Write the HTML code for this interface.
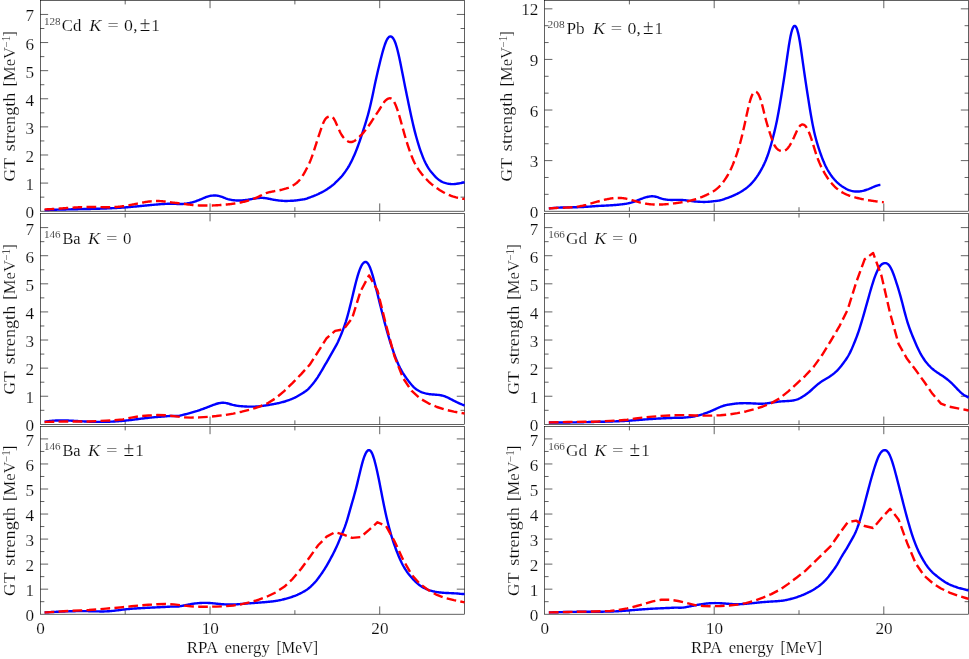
<!DOCTYPE html>
<html><head><meta charset="utf-8"><title>GT strength</title>
<style>
html,body{margin:0;padding:0;background:#fff;}
body{width:969px;height:659px;overflow:hidden;font-family:"Liberation Serif",serif;}
svg{display:block;will-change:transform;}
</style></head><body>
<svg width="969" height="659" viewBox="0 0 969 659">
<rect x="0" y="0" width="969" height="659" fill="#fff"/>
<g stroke="#000" stroke-width="0.62" fill="none">
<rect x="40.35" y="0.40" width="424.23" height="210.80" fill="none"/>
<line x1="125.20" y1="211.20" x2="125.20" y2="207.20"/>
<line x1="125.20" y1="0.40" x2="125.20" y2="4.40"/>
<line x1="210.04" y1="211.20" x2="210.04" y2="203.40"/>
<line x1="210.04" y1="0.40" x2="210.04" y2="8.20"/>
<line x1="294.89" y1="211.20" x2="294.89" y2="207.20"/>
<line x1="294.89" y1="0.40" x2="294.89" y2="4.40"/>
<line x1="379.73" y1="211.20" x2="379.73" y2="203.40"/>
<line x1="379.73" y1="0.40" x2="379.73" y2="8.20"/>
<line x1="40.35" y1="197.15" x2="44.35" y2="197.15"/>
<line x1="464.58" y1="197.15" x2="460.58" y2="197.15"/>
<line x1="40.35" y1="183.09" x2="48.15" y2="183.09"/>
<line x1="464.58" y1="183.09" x2="456.78" y2="183.09"/>
<line x1="40.35" y1="169.04" x2="44.35" y2="169.04"/>
<line x1="464.58" y1="169.04" x2="460.58" y2="169.04"/>
<line x1="40.35" y1="154.99" x2="48.15" y2="154.99"/>
<line x1="464.58" y1="154.99" x2="456.78" y2="154.99"/>
<line x1="40.35" y1="140.93" x2="44.35" y2="140.93"/>
<line x1="464.58" y1="140.93" x2="460.58" y2="140.93"/>
<line x1="40.35" y1="126.88" x2="48.15" y2="126.88"/>
<line x1="464.58" y1="126.88" x2="456.78" y2="126.88"/>
<line x1="40.35" y1="112.83" x2="44.35" y2="112.83"/>
<line x1="464.58" y1="112.83" x2="460.58" y2="112.83"/>
<line x1="40.35" y1="98.77" x2="48.15" y2="98.77"/>
<line x1="464.58" y1="98.77" x2="456.78" y2="98.77"/>
<line x1="40.35" y1="84.72" x2="44.35" y2="84.72"/>
<line x1="464.58" y1="84.72" x2="460.58" y2="84.72"/>
<line x1="40.35" y1="70.67" x2="48.15" y2="70.67"/>
<line x1="464.58" y1="70.67" x2="456.78" y2="70.67"/>
<line x1="40.35" y1="56.61" x2="44.35" y2="56.61"/>
<line x1="464.58" y1="56.61" x2="460.58" y2="56.61"/>
<line x1="40.35" y1="42.56" x2="48.15" y2="42.56"/>
<line x1="464.58" y1="42.56" x2="456.78" y2="42.56"/>
<line x1="40.35" y1="28.51" x2="44.35" y2="28.51"/>
<line x1="464.58" y1="28.51" x2="460.58" y2="28.51"/>
<line x1="40.35" y1="14.45" x2="48.15" y2="14.45"/>
<line x1="464.58" y1="14.45" x2="456.78" y2="14.45"/>
<rect x="40.35" y="213.55" width="424.23" height="210.80" fill="none"/>
<line x1="125.20" y1="424.35" x2="125.20" y2="420.35"/>
<line x1="125.20" y1="213.55" x2="125.20" y2="217.55"/>
<line x1="210.04" y1="424.35" x2="210.04" y2="416.55"/>
<line x1="210.04" y1="213.55" x2="210.04" y2="221.35"/>
<line x1="294.89" y1="424.35" x2="294.89" y2="420.35"/>
<line x1="294.89" y1="213.55" x2="294.89" y2="217.55"/>
<line x1="379.73" y1="424.35" x2="379.73" y2="416.55"/>
<line x1="379.73" y1="213.55" x2="379.73" y2="221.35"/>
<line x1="40.35" y1="410.30" x2="44.35" y2="410.30"/>
<line x1="464.58" y1="410.30" x2="460.58" y2="410.30"/>
<line x1="40.35" y1="396.24" x2="48.15" y2="396.24"/>
<line x1="464.58" y1="396.24" x2="456.78" y2="396.24"/>
<line x1="40.35" y1="382.19" x2="44.35" y2="382.19"/>
<line x1="464.58" y1="382.19" x2="460.58" y2="382.19"/>
<line x1="40.35" y1="368.14" x2="48.15" y2="368.14"/>
<line x1="464.58" y1="368.14" x2="456.78" y2="368.14"/>
<line x1="40.35" y1="354.08" x2="44.35" y2="354.08"/>
<line x1="464.58" y1="354.08" x2="460.58" y2="354.08"/>
<line x1="40.35" y1="340.03" x2="48.15" y2="340.03"/>
<line x1="464.58" y1="340.03" x2="456.78" y2="340.03"/>
<line x1="40.35" y1="325.98" x2="44.35" y2="325.98"/>
<line x1="464.58" y1="325.98" x2="460.58" y2="325.98"/>
<line x1="40.35" y1="311.92" x2="48.15" y2="311.92"/>
<line x1="464.58" y1="311.92" x2="456.78" y2="311.92"/>
<line x1="40.35" y1="297.87" x2="44.35" y2="297.87"/>
<line x1="464.58" y1="297.87" x2="460.58" y2="297.87"/>
<line x1="40.35" y1="283.82" x2="48.15" y2="283.82"/>
<line x1="464.58" y1="283.82" x2="456.78" y2="283.82"/>
<line x1="40.35" y1="269.76" x2="44.35" y2="269.76"/>
<line x1="464.58" y1="269.76" x2="460.58" y2="269.76"/>
<line x1="40.35" y1="255.71" x2="48.15" y2="255.71"/>
<line x1="464.58" y1="255.71" x2="456.78" y2="255.71"/>
<line x1="40.35" y1="241.66" x2="44.35" y2="241.66"/>
<line x1="464.58" y1="241.66" x2="460.58" y2="241.66"/>
<line x1="40.35" y1="227.60" x2="48.15" y2="227.60"/>
<line x1="464.58" y1="227.60" x2="456.78" y2="227.60"/>
<rect x="40.35" y="426.40" width="424.23" height="187.80" fill="none"/>
<line x1="125.20" y1="614.20" x2="125.20" y2="610.20"/>
<line x1="125.20" y1="426.40" x2="125.20" y2="430.40"/>
<line x1="210.04" y1="614.20" x2="210.04" y2="606.40"/>
<line x1="210.04" y1="426.40" x2="210.04" y2="434.20"/>
<line x1="294.89" y1="614.20" x2="294.89" y2="610.20"/>
<line x1="294.89" y1="426.40" x2="294.89" y2="430.40"/>
<line x1="379.73" y1="614.20" x2="379.73" y2="606.40"/>
<line x1="379.73" y1="426.40" x2="379.73" y2="434.20"/>
<line x1="40.35" y1="601.68" x2="44.35" y2="601.68"/>
<line x1="464.58" y1="601.68" x2="460.58" y2="601.68"/>
<line x1="40.35" y1="589.16" x2="48.15" y2="589.16"/>
<line x1="464.58" y1="589.16" x2="456.78" y2="589.16"/>
<line x1="40.35" y1="576.64" x2="44.35" y2="576.64"/>
<line x1="464.58" y1="576.64" x2="460.58" y2="576.64"/>
<line x1="40.35" y1="564.12" x2="48.15" y2="564.12"/>
<line x1="464.58" y1="564.12" x2="456.78" y2="564.12"/>
<line x1="40.35" y1="551.60" x2="44.35" y2="551.60"/>
<line x1="464.58" y1="551.60" x2="460.58" y2="551.60"/>
<line x1="40.35" y1="539.08" x2="48.15" y2="539.08"/>
<line x1="464.58" y1="539.08" x2="456.78" y2="539.08"/>
<line x1="40.35" y1="526.56" x2="44.35" y2="526.56"/>
<line x1="464.58" y1="526.56" x2="460.58" y2="526.56"/>
<line x1="40.35" y1="514.04" x2="48.15" y2="514.04"/>
<line x1="464.58" y1="514.04" x2="456.78" y2="514.04"/>
<line x1="40.35" y1="501.52" x2="44.35" y2="501.52"/>
<line x1="464.58" y1="501.52" x2="460.58" y2="501.52"/>
<line x1="40.35" y1="489.00" x2="48.15" y2="489.00"/>
<line x1="464.58" y1="489.00" x2="456.78" y2="489.00"/>
<line x1="40.35" y1="476.48" x2="44.35" y2="476.48"/>
<line x1="464.58" y1="476.48" x2="460.58" y2="476.48"/>
<line x1="40.35" y1="463.96" x2="48.15" y2="463.96"/>
<line x1="464.58" y1="463.96" x2="456.78" y2="463.96"/>
<line x1="40.35" y1="451.44" x2="44.35" y2="451.44"/>
<line x1="464.58" y1="451.44" x2="460.58" y2="451.44"/>
<line x1="40.35" y1="438.92" x2="48.15" y2="438.92"/>
<line x1="464.58" y1="438.92" x2="456.78" y2="438.92"/>
<rect x="544.60" y="0.40" width="424.00" height="210.80" fill="none"/>
<line x1="629.40" y1="211.20" x2="629.40" y2="207.20"/>
<line x1="629.40" y1="0.40" x2="629.40" y2="4.40"/>
<line x1="714.20" y1="211.20" x2="714.20" y2="203.40"/>
<line x1="714.20" y1="0.40" x2="714.20" y2="8.20"/>
<line x1="799.00" y1="211.20" x2="799.00" y2="207.20"/>
<line x1="799.00" y1="0.40" x2="799.00" y2="4.40"/>
<line x1="883.80" y1="211.20" x2="883.80" y2="203.40"/>
<line x1="883.80" y1="0.40" x2="883.80" y2="8.20"/>
<line x1="544.60" y1="194.34" x2="548.60" y2="194.34"/>
<line x1="968.60" y1="194.34" x2="964.60" y2="194.34"/>
<line x1="544.60" y1="177.47" x2="548.60" y2="177.47"/>
<line x1="968.60" y1="177.47" x2="964.60" y2="177.47"/>
<line x1="544.60" y1="160.61" x2="552.40" y2="160.61"/>
<line x1="968.60" y1="160.61" x2="960.80" y2="160.61"/>
<line x1="544.60" y1="143.74" x2="548.60" y2="143.74"/>
<line x1="968.60" y1="143.74" x2="964.60" y2="143.74"/>
<line x1="544.60" y1="126.88" x2="548.60" y2="126.88"/>
<line x1="968.60" y1="126.88" x2="964.60" y2="126.88"/>
<line x1="544.60" y1="110.02" x2="552.40" y2="110.02"/>
<line x1="968.60" y1="110.02" x2="960.80" y2="110.02"/>
<line x1="544.60" y1="93.15" x2="548.60" y2="93.15"/>
<line x1="968.60" y1="93.15" x2="964.60" y2="93.15"/>
<line x1="544.60" y1="76.29" x2="548.60" y2="76.29"/>
<line x1="968.60" y1="76.29" x2="964.60" y2="76.29"/>
<line x1="544.60" y1="59.42" x2="552.40" y2="59.42"/>
<line x1="968.60" y1="59.42" x2="960.80" y2="59.42"/>
<line x1="544.60" y1="42.56" x2="548.60" y2="42.56"/>
<line x1="968.60" y1="42.56" x2="964.60" y2="42.56"/>
<line x1="544.60" y1="25.70" x2="548.60" y2="25.70"/>
<line x1="968.60" y1="25.70" x2="964.60" y2="25.70"/>
<line x1="544.60" y1="8.83" x2="552.40" y2="8.83"/>
<line x1="968.60" y1="8.83" x2="960.80" y2="8.83"/>
<rect x="544.60" y="213.55" width="424.00" height="210.80" fill="none"/>
<line x1="629.40" y1="424.35" x2="629.40" y2="420.35"/>
<line x1="629.40" y1="213.55" x2="629.40" y2="217.55"/>
<line x1="714.20" y1="424.35" x2="714.20" y2="416.55"/>
<line x1="714.20" y1="213.55" x2="714.20" y2="221.35"/>
<line x1="799.00" y1="424.35" x2="799.00" y2="420.35"/>
<line x1="799.00" y1="213.55" x2="799.00" y2="217.55"/>
<line x1="883.80" y1="424.35" x2="883.80" y2="416.55"/>
<line x1="883.80" y1="213.55" x2="883.80" y2="221.35"/>
<line x1="544.60" y1="410.30" x2="548.60" y2="410.30"/>
<line x1="968.60" y1="410.30" x2="964.60" y2="410.30"/>
<line x1="544.60" y1="396.24" x2="552.40" y2="396.24"/>
<line x1="968.60" y1="396.24" x2="960.80" y2="396.24"/>
<line x1="544.60" y1="382.19" x2="548.60" y2="382.19"/>
<line x1="968.60" y1="382.19" x2="964.60" y2="382.19"/>
<line x1="544.60" y1="368.14" x2="552.40" y2="368.14"/>
<line x1="968.60" y1="368.14" x2="960.80" y2="368.14"/>
<line x1="544.60" y1="354.08" x2="548.60" y2="354.08"/>
<line x1="968.60" y1="354.08" x2="964.60" y2="354.08"/>
<line x1="544.60" y1="340.03" x2="552.40" y2="340.03"/>
<line x1="968.60" y1="340.03" x2="960.80" y2="340.03"/>
<line x1="544.60" y1="325.98" x2="548.60" y2="325.98"/>
<line x1="968.60" y1="325.98" x2="964.60" y2="325.98"/>
<line x1="544.60" y1="311.92" x2="552.40" y2="311.92"/>
<line x1="968.60" y1="311.92" x2="960.80" y2="311.92"/>
<line x1="544.60" y1="297.87" x2="548.60" y2="297.87"/>
<line x1="968.60" y1="297.87" x2="964.60" y2="297.87"/>
<line x1="544.60" y1="283.82" x2="552.40" y2="283.82"/>
<line x1="968.60" y1="283.82" x2="960.80" y2="283.82"/>
<line x1="544.60" y1="269.76" x2="548.60" y2="269.76"/>
<line x1="968.60" y1="269.76" x2="964.60" y2="269.76"/>
<line x1="544.60" y1="255.71" x2="552.40" y2="255.71"/>
<line x1="968.60" y1="255.71" x2="960.80" y2="255.71"/>
<line x1="544.60" y1="241.66" x2="548.60" y2="241.66"/>
<line x1="968.60" y1="241.66" x2="964.60" y2="241.66"/>
<line x1="544.60" y1="227.60" x2="552.40" y2="227.60"/>
<line x1="968.60" y1="227.60" x2="960.80" y2="227.60"/>
<rect x="544.60" y="426.40" width="424.00" height="187.80" fill="none"/>
<line x1="629.40" y1="614.20" x2="629.40" y2="610.20"/>
<line x1="629.40" y1="426.40" x2="629.40" y2="430.40"/>
<line x1="714.20" y1="614.20" x2="714.20" y2="606.40"/>
<line x1="714.20" y1="426.40" x2="714.20" y2="434.20"/>
<line x1="799.00" y1="614.20" x2="799.00" y2="610.20"/>
<line x1="799.00" y1="426.40" x2="799.00" y2="430.40"/>
<line x1="883.80" y1="614.20" x2="883.80" y2="606.40"/>
<line x1="883.80" y1="426.40" x2="883.80" y2="434.20"/>
<line x1="544.60" y1="601.68" x2="548.60" y2="601.68"/>
<line x1="968.60" y1="601.68" x2="964.60" y2="601.68"/>
<line x1="544.60" y1="589.16" x2="552.40" y2="589.16"/>
<line x1="968.60" y1="589.16" x2="960.80" y2="589.16"/>
<line x1="544.60" y1="576.64" x2="548.60" y2="576.64"/>
<line x1="968.60" y1="576.64" x2="964.60" y2="576.64"/>
<line x1="544.60" y1="564.12" x2="552.40" y2="564.12"/>
<line x1="968.60" y1="564.12" x2="960.80" y2="564.12"/>
<line x1="544.60" y1="551.60" x2="548.60" y2="551.60"/>
<line x1="968.60" y1="551.60" x2="964.60" y2="551.60"/>
<line x1="544.60" y1="539.08" x2="552.40" y2="539.08"/>
<line x1="968.60" y1="539.08" x2="960.80" y2="539.08"/>
<line x1="544.60" y1="526.56" x2="548.60" y2="526.56"/>
<line x1="968.60" y1="526.56" x2="964.60" y2="526.56"/>
<line x1="544.60" y1="514.04" x2="552.40" y2="514.04"/>
<line x1="968.60" y1="514.04" x2="960.80" y2="514.04"/>
<line x1="544.60" y1="501.52" x2="548.60" y2="501.52"/>
<line x1="968.60" y1="501.52" x2="964.60" y2="501.52"/>
<line x1="544.60" y1="489.00" x2="552.40" y2="489.00"/>
<line x1="968.60" y1="489.00" x2="960.80" y2="489.00"/>
<line x1="544.60" y1="476.48" x2="548.60" y2="476.48"/>
<line x1="968.60" y1="476.48" x2="964.60" y2="476.48"/>
<line x1="544.60" y1="463.96" x2="552.40" y2="463.96"/>
<line x1="968.60" y1="463.96" x2="960.80" y2="463.96"/>
<line x1="544.60" y1="451.44" x2="548.60" y2="451.44"/>
<line x1="968.60" y1="451.44" x2="964.60" y2="451.44"/>
<line x1="544.60" y1="438.92" x2="552.40" y2="438.92"/>
<line x1="968.60" y1="438.92" x2="960.80" y2="438.92"/>
</g>
<g>
<path d="M44.59,210.14 L45.44,210.11 L46.29,210.07 L47.14,210.03 L47.99,209.99 L48.83,209.96 L49.68,209.92 L50.53,209.89 L51.38,209.86 L52.23,209.83 L53.08,209.80 L53.93,209.77 L54.77,209.74 L55.62,209.71 L56.47,209.69 L57.32,209.66 L58.17,209.63 L59.02,209.61 L59.86,209.59 L60.71,209.56 L61.56,209.54 L62.41,209.52 L63.26,209.50 L64.11,209.48 L64.96,209.46 L65.80,209.44 L66.65,209.42 L67.50,209.40 L68.35,209.38 L69.20,209.36 L70.05,209.34 L70.89,209.33 L71.74,209.31 L72.59,209.29 L73.44,209.27 L74.29,209.26 L75.14,209.24 L75.99,209.22 L76.83,209.21 L77.68,209.19 L78.53,209.17 L79.38,209.16 L80.23,209.14 L81.08,209.12 L81.92,209.11 L82.77,209.09 L83.62,209.07 L84.47,209.06 L85.32,209.04 L86.17,209.02 L87.02,209.00 L87.86,208.98 L88.71,208.97 L89.56,208.95 L90.41,208.93 L91.26,208.91 L92.11,208.89 L92.95,208.87 L93.80,208.84 L94.65,208.82 L95.50,208.80 L96.35,208.78 L97.20,208.75 L98.05,208.73 L98.89,208.70 L99.74,208.68 L100.59,208.65 L101.44,208.62 L102.29,208.59 L103.14,208.56 L103.98,208.53 L104.83,208.50 L105.68,208.47 L106.53,208.44 L107.38,208.40 L108.23,208.37 L109.08,208.33 L109.92,208.29 L110.77,208.25 L111.62,208.21 L112.47,208.17 L113.32,208.13 L114.17,208.09 L115.01,208.04 L115.86,208.00 L116.71,207.95 L117.56,207.90 L118.41,207.85 L119.26,207.80 L120.11,207.74 L120.95,207.69 L121.80,207.63 L122.65,207.57 L123.50,207.51 L124.35,207.45 L125.20,207.39 L126.04,207.32 L126.89,207.26 L127.74,207.19 L128.59,207.12 L129.44,207.05 L130.29,206.98 L131.14,206.91 L131.98,206.83 L132.83,206.76 L133.68,206.68 L134.53,206.60 L135.38,206.53 L136.23,206.45 L137.07,206.37 L137.92,206.29 L138.77,206.21 L139.62,206.13 L140.47,206.05 L141.32,205.96 L142.17,205.88 L143.01,205.80 L143.86,205.72 L144.71,205.63 L145.56,205.55 L146.41,205.47 L147.26,205.39 L148.10,205.31 L148.95,205.23 L149.80,205.14 L150.65,205.06 L151.50,204.98 L152.35,204.90 L153.20,204.82 L154.04,204.74 L154.89,204.66 L155.74,204.59 L156.59,204.52 L157.44,204.45 L158.29,204.38 L159.13,204.31 L159.98,204.24 L160.83,204.17 L161.68,204.11 L162.53,204.05 L163.38,204.00 L164.23,203.95 L165.07,203.91 L165.92,203.87 L166.77,203.83 L167.62,203.79 L168.47,203.76 L169.32,203.72 L170.16,203.69 L171.01,203.68 L171.86,203.67 L172.71,203.69 L173.56,203.72 L174.41,203.76 L175.26,203.82 L176.10,203.88 L176.95,203.94 L177.80,204.00 L178.65,204.04 L179.50,204.07 L180.35,204.07 L181.19,204.06 L182.04,204.02 L182.89,203.96 L183.74,203.89 L184.59,203.79 L185.44,203.69 L186.29,203.57 L187.13,203.44 L187.98,203.29 L188.83,203.13 L189.68,202.95 L190.53,202.75 L191.38,202.54 L192.22,202.31 L193.07,202.07 L193.92,201.82 L194.77,201.56 L195.62,201.28 L196.47,200.99 L197.32,200.69 L198.16,200.38 L199.01,200.05 L199.86,199.70 L200.71,199.35 L201.56,198.99 L202.41,198.62 L203.25,198.25 L204.10,197.88 L204.95,197.53 L205.80,197.19 L206.65,196.88 L207.50,196.59 L208.35,196.34 L209.19,196.12 L210.04,195.94 L210.89,195.79 L211.74,195.67 L212.59,195.58 L213.44,195.53 L214.28,195.50 L215.13,195.49 L215.98,195.52 L216.83,195.59 L217.68,195.70 L218.53,195.85 L219.38,196.05 L220.22,196.29 L221.07,196.58 L221.92,196.89 L222.77,197.22 L223.62,197.56 L224.47,197.89 L225.31,198.22 L226.16,198.53 L227.01,198.81 L227.86,199.07 L228.71,199.30 L229.56,199.51 L230.41,199.69 L231.25,199.85 L232.10,199.99 L232.95,200.11 L233.80,200.22 L234.65,200.31 L235.50,200.38 L236.34,200.44 L237.19,200.49 L238.04,200.51 L238.89,200.52 L239.74,200.51 L240.59,200.48 L241.44,200.44 L242.28,200.39 L243.13,200.32 L243.98,200.24 L244.83,200.15 L245.68,200.05 L246.53,199.94 L247.37,199.82 L248.22,199.69 L249.07,199.55 L249.92,199.40 L250.77,199.25 L251.62,199.09 L252.46,198.93 L253.31,198.77 L254.16,198.62 L255.01,198.48 L255.86,198.35 L256.71,198.23 L257.56,198.12 L258.40,198.03 L259.25,197.96 L260.10,197.91 L260.95,197.89 L261.80,197.89 L262.65,197.91 L263.49,197.97 L264.34,198.04 L265.19,198.14 L266.04,198.26 L266.89,198.39 L267.74,198.54 L268.59,198.70 L269.43,198.87 L270.28,199.04 L271.13,199.22 L271.98,199.39 L272.83,199.56 L273.68,199.72 L274.52,199.87 L275.37,200.02 L276.22,200.16 L277.07,200.28 L277.92,200.40 L278.77,200.50 L279.62,200.59 L280.46,200.67 L281.31,200.74 L282.16,200.80 L283.01,200.86 L283.86,200.90 L284.71,200.93 L285.55,200.95 L286.40,200.95 L287.25,200.94 L288.10,200.92 L288.95,200.89 L289.80,200.86 L290.65,200.82 L291.49,200.78 L292.34,200.73 L293.19,200.68 L294.04,200.62 L294.89,200.54 L295.74,200.45 L296.58,200.34 L297.43,200.23 L298.28,200.12 L299.13,200.01 L299.98,199.90 L300.83,199.79 L301.68,199.67 L302.52,199.54 L303.37,199.40 L304.22,199.23 L305.07,199.03 L305.92,198.80 L306.77,198.54 L307.61,198.26 L308.46,197.96 L309.31,197.64 L310.16,197.32 L311.01,197.00 L311.86,196.67 L312.71,196.35 L313.55,196.03 L314.40,195.70 L315.25,195.36 L316.10,195.01 L316.95,194.63 L317.80,194.25 L318.64,193.85 L319.49,193.44 L320.34,193.02 L321.19,192.60 L322.04,192.18 L322.89,191.73 L323.74,191.27 L324.58,190.78 L325.43,190.27 L326.28,189.73 L327.13,189.17 L327.98,188.60 L328.83,188.01 L329.67,187.42 L330.52,186.81 L331.37,186.18 L332.22,185.51 L333.07,184.81 L333.92,184.07 L334.77,183.29 L335.61,182.48 L336.46,181.66 L337.31,180.83 L338.16,180.00 L339.01,179.15 L339.86,178.28 L340.70,177.38 L341.55,176.43 L342.40,175.43 L343.25,174.38 L344.10,173.27 L344.95,172.12 L345.80,170.92 L346.64,169.67 L347.49,168.37 L348.34,167.00 L349.19,165.56 L350.04,164.03 L350.89,162.42 L351.73,160.71 L352.58,158.92 L353.43,157.06 L354.28,155.14 L355.13,153.16 L355.98,151.10 L356.83,148.98 L357.67,146.76 L358.52,144.45 L359.37,142.04 L360.22,139.56 L361.07,137.00 L361.92,134.41 L362.76,131.79 L363.61,129.15 L364.46,126.50 L365.31,123.81 L366.16,121.06 L367.01,118.21 L367.86,115.24 L368.70,112.11 L369.55,108.78 L370.40,105.26 L371.25,101.54 L372.10,97.66 L372.95,93.66 L373.79,89.62 L374.64,85.59 L375.49,81.62 L376.34,77.75 L377.19,73.99 L378.04,70.33 L378.89,66.75 L379.73,63.24 L380.58,59.80 L381.43,56.45 L382.28,53.23 L383.13,50.17 L383.98,47.33 L384.82,44.75 L385.67,42.47 L386.52,40.52 L387.37,38.94 L388.22,37.74 L389.07,36.92 L389.92,36.49 L390.76,36.44 L391.61,36.76 L392.46,37.46 L393.31,38.54 L394.16,40.03 L395.01,41.94 L395.85,44.27 L396.70,47.03 L397.55,50.19 L398.40,53.71 L399.25,57.50 L400.10,61.52 L400.95,65.68 L401.79,69.95 L402.64,74.26 L403.49,78.59 L404.34,82.89 L405.19,87.14 L406.04,91.35 L406.88,95.50 L407.73,99.61 L408.58,103.69 L409.43,107.73 L410.28,111.74 L411.13,115.68 L411.98,119.54 L412.82,123.29 L413.67,126.89 L414.52,130.34 L415.37,133.64 L416.22,136.78 L417.07,139.78 L417.91,142.64 L418.76,145.39 L419.61,148.02 L420.46,150.53 L421.31,152.92 L422.16,155.20 L423.01,157.35 L423.85,159.38 L424.70,161.28 L425.55,163.05 L426.40,164.69 L427.25,166.21 L428.10,167.61 L428.94,168.91 L429.79,170.12 L430.64,171.26 L431.49,172.33 L432.34,173.35 L433.19,174.33 L434.04,175.27 L434.88,176.17 L435.73,177.04 L436.58,177.86 L437.43,178.63 L438.28,179.35 L439.13,180.00 L439.97,180.58 L440.82,181.11 L441.67,181.57 L442.52,181.98 L443.37,182.34 L444.22,182.66 L445.07,182.94 L445.91,183.19 L446.76,183.41 L447.61,183.59 L448.46,183.75 L449.31,183.87 L450.16,183.97 L451.00,184.04 L451.85,184.08 L452.70,184.09 L453.55,184.08 L454.40,184.05 L455.25,183.99 L456.10,183.90 L456.94,183.79 L457.79,183.66 L458.64,183.51 L459.49,183.34 L460.34,183.16 L461.19,182.97 L462.03,182.76 L462.88,182.53 L463.73,182.29 L464.58,182.06" stroke="#0000ff" stroke-width="2.40" fill="none" stroke-linecap="butt" stroke-linejoin="round"/>
<path d="M44.59,209.42 L45.44,209.39 L46.29,209.36 L47.14,209.32 L47.99,209.29 L48.83,209.25 L49.68,209.21 L50.53,209.16 L51.38,209.12 L52.23,209.07 L53.08,209.02 L53.93,208.97 L54.77,208.91 L55.62,208.86 L56.47,208.80 L57.32,208.74 L58.17,208.68 L59.02,208.62 L59.86,208.56 L60.71,208.50 L61.56,208.44 L62.41,208.38 L63.26,208.32 L64.11,208.25 L64.96,208.19 L65.80,208.13 L66.65,208.07 L67.50,208.00 L68.35,207.94 L69.20,207.88 L70.05,207.82 L70.89,207.76 L71.74,207.70 L72.59,207.65 L73.44,207.59 L74.29,207.54 L75.14,207.48 L75.99,207.43 L76.83,207.39 L77.68,207.34 L78.53,207.29 L79.38,207.25 L80.23,207.21 L81.08,207.17 L81.92,207.14 L82.77,207.11 L83.62,207.08 L84.47,207.05 L85.32,207.03 L86.17,207.01 L87.02,206.99 L87.86,206.98 L88.71,206.97 L89.56,206.97 L90.41,206.96 L91.26,206.97 L92.11,206.97 L92.95,206.98 L93.80,206.99 L94.65,207.01 L95.50,207.02 L96.35,207.04 L97.20,207.05 L98.05,207.07 L98.89,207.09 L99.74,207.11 L100.59,207.13 L101.44,207.15 L102.29,207.16 L103.14,207.18 L103.98,207.19 L104.83,207.20 L105.68,207.21 L106.53,207.22 L107.38,207.22 L108.23,207.22 L109.08,207.22 L109.92,207.21 L110.77,207.19 L111.62,207.17 L112.47,207.15 L113.32,207.12 L114.17,207.08 L115.01,207.04 L115.86,206.99 L116.71,206.94 L117.56,206.87 L118.41,206.80 L119.26,206.72 L120.11,206.63 L120.95,206.53 L121.80,206.42 L122.65,206.31 L123.50,206.19 L124.35,206.06 L125.20,205.93 L126.04,205.79 L126.89,205.64 L127.74,205.49 L128.59,205.34 L129.44,205.18 L130.29,205.02 L131.14,204.85 L131.98,204.69 L132.83,204.52 L133.68,204.35 L134.53,204.17 L135.38,204.00 L136.23,203.83 L137.07,203.65 L137.92,203.48 L138.77,203.31 L139.62,203.14 L140.47,202.97 L141.32,202.81 L142.17,202.65 L143.01,202.49 L143.86,202.34 L144.71,202.19 L145.56,202.05 L146.41,201.91 L147.26,201.79 L148.10,201.67 L148.95,201.55 L149.80,201.45 L150.65,201.36 L151.50,201.27 L152.35,201.20 L153.20,201.14 L154.04,201.09 L154.89,201.05 L155.74,201.03 L156.59,201.02 L157.44,201.02 L158.29,201.04 L159.13,201.07 L159.98,201.11 L160.83,201.17 L161.68,201.23 L162.53,201.30 L163.38,201.38 L164.23,201.47 L165.07,201.56 L165.92,201.66 L166.77,201.77 L167.62,201.88 L168.47,202.00 L169.32,202.13 L170.16,202.25 L171.01,202.37 L171.86,202.48 L172.71,202.58 L173.56,202.67 L174.41,202.77 L175.26,202.86 L176.10,202.95 L176.95,203.05 L177.80,203.16 L178.65,203.27 L179.50,203.39 L180.35,203.50 L181.19,203.62 L182.04,203.73 L182.89,203.84 L183.74,203.96 L184.59,204.06 L185.44,204.17 L186.29,204.28 L187.13,204.39 L187.98,204.49 L188.83,204.59 L189.68,204.68 L190.53,204.78 L191.38,204.86 L192.22,204.95 L193.07,205.03 L193.92,205.10 L194.77,205.17 L195.62,205.24 L196.47,205.29 L197.32,205.35 L198.16,205.39 L199.01,205.43 L199.86,205.47 L200.71,205.49 L201.56,205.52 L202.41,205.53 L203.25,205.55 L204.10,205.55 L204.95,205.56 L205.80,205.56 L206.65,205.55 L207.50,205.55 L208.35,205.53 L209.19,205.52 L210.04,205.50 L210.89,205.48 L211.74,205.46 L212.59,205.44 L213.44,205.41 L214.28,205.38 L215.13,205.34 L215.98,205.30 L216.83,205.26 L217.68,205.21 L218.53,205.17 L219.38,205.11 L220.22,205.06 L221.07,205.00 L221.92,204.94 L222.77,204.87 L223.62,204.80 L224.47,204.72 L225.31,204.64 L226.16,204.56 L227.01,204.48 L227.86,204.39 L228.71,204.29 L229.56,204.19 L230.41,204.09 L231.25,203.99 L232.10,203.88 L232.95,203.76 L233.80,203.64 L234.65,203.51 L235.50,203.38 L236.34,203.24 L237.19,203.10 L238.04,202.95 L238.89,202.79 L239.74,202.63 L240.59,202.47 L241.44,202.29 L242.28,202.11 L243.13,201.92 L243.98,201.72 L244.83,201.52 L245.68,201.30 L246.53,201.07 L247.37,200.84 L248.22,200.59 L249.07,200.33 L249.92,200.07 L250.77,199.79 L251.62,199.51 L252.46,199.21 L253.31,198.90 L254.16,198.58 L255.01,198.25 L255.86,197.90 L256.71,197.54 L257.56,197.16 L258.40,196.77 L259.25,196.36 L260.10,195.94 L260.95,195.51 L261.80,195.08 L262.65,194.66 L263.49,194.25 L264.34,193.86 L265.19,193.51 L266.04,193.18 L266.89,192.89 L267.74,192.63 L268.59,192.40 L269.43,192.19 L270.28,192.00 L271.13,191.82 L271.98,191.64 L272.83,191.48 L273.68,191.32 L274.52,191.16 L275.37,191.00 L276.22,190.85 L277.07,190.69 L277.92,190.54 L278.77,190.38 L279.62,190.21 L280.46,190.03 L281.31,189.84 L282.16,189.64 L283.01,189.43 L283.86,189.20 L284.71,188.95 L285.55,188.69 L286.40,188.42 L287.25,188.12 L288.10,187.81 L288.95,187.47 L289.80,187.10 L290.65,186.70 L291.49,186.26 L292.34,185.79 L293.19,185.29 L294.04,184.76 L294.89,184.20 L295.74,183.61 L296.58,182.96 L297.43,182.24 L298.28,181.45 L299.13,180.55 L299.98,179.54 L300.83,178.42 L301.68,177.21 L302.52,175.90 L303.37,174.51 L304.22,173.07 L305.07,171.57 L305.92,170.02 L306.77,168.42 L307.61,166.76 L308.46,165.03 L309.31,163.20 L310.16,161.24 L311.01,159.14 L311.86,156.88 L312.71,154.47 L313.55,151.94 L314.40,149.33 L315.25,146.68 L316.10,144.04 L316.95,141.41 L317.80,138.81 L318.64,136.22 L319.49,133.64 L320.34,131.06 L321.19,128.54 L322.04,126.12 L322.89,123.89 L323.74,121.93 L324.58,120.29 L325.43,118.99 L326.28,118.03 L327.13,117.34 L327.98,116.86 L328.83,116.54 L329.67,116.36 L330.52,116.33 L331.37,116.51 L332.22,116.95 L333.07,117.72 L333.92,118.84 L334.77,120.30 L335.61,122.02 L336.46,123.93 L337.31,125.92 L338.16,127.90 L339.01,129.82 L339.86,131.61 L340.70,133.26 L341.55,134.75 L342.40,136.08 L343.25,137.25 L344.10,138.28 L344.95,139.17 L345.80,139.93 L346.64,140.57 L347.49,141.10 L348.34,141.51 L349.19,141.81 L350.04,141.99 L350.89,142.05 L351.73,141.98 L352.58,141.78 L353.43,141.45 L354.28,141.01 L355.13,140.46 L355.98,139.83 L356.83,139.13 L357.67,138.39 L358.52,137.61 L359.37,136.81 L360.22,135.98 L361.07,135.13 L361.92,134.24 L362.76,133.32 L363.61,132.35 L364.46,131.34 L365.31,130.29 L366.16,129.20 L367.01,128.08 L367.86,126.93 L368.70,125.75 L369.55,124.54 L370.40,123.29 L371.25,122.01 L372.10,120.70 L372.95,119.38 L373.79,118.06 L374.64,116.75 L375.49,115.45 L376.34,114.18 L377.19,112.91 L378.04,111.63 L378.89,110.33 L379.73,108.99 L380.58,107.61 L381.43,106.22 L382.28,104.85 L383.13,103.54 L383.98,102.35 L384.82,101.29 L385.67,100.40 L386.52,99.66 L387.37,99.08 L388.22,98.64 L389.07,98.37 L389.92,98.29 L390.76,98.43 L391.61,98.84 L392.46,99.55 L393.31,100.59 L394.16,101.95 L395.01,103.62 L395.85,105.58 L396.70,107.78 L397.55,110.22 L398.40,112.85 L399.25,115.64 L400.10,118.56 L400.95,121.57 L401.79,124.63 L402.64,127.72 L403.49,130.79 L404.34,133.82 L405.19,136.78 L406.04,139.65 L406.88,142.42 L407.73,145.09 L408.58,147.66 L409.43,150.15 L410.28,152.54 L411.13,154.83 L411.98,157.01 L412.82,159.07 L413.67,160.98 L414.52,162.75 L415.37,164.39 L416.22,165.90 L417.07,167.32 L417.91,168.65 L418.76,169.91 L419.61,171.11 L420.46,172.27 L421.31,173.38 L422.16,174.45 L423.01,175.48 L423.85,176.48 L424.70,177.44 L425.55,178.37 L426.40,179.27 L427.25,180.14 L428.10,180.99 L428.94,181.81 L429.79,182.60 L430.64,183.36 L431.49,184.09 L432.34,184.78 L433.19,185.45 L434.04,186.09 L434.88,186.72 L435.73,187.33 L436.58,187.92 L437.43,188.51 L438.28,189.08 L439.13,189.64 L439.97,190.19 L440.82,190.72 L441.67,191.24 L442.52,191.74 L443.37,192.22 L444.22,192.69 L445.07,193.14 L445.91,193.57 L446.76,193.98 L447.61,194.38 L448.46,194.75 L449.31,195.11 L450.16,195.45 L451.00,195.77 L451.85,196.08 L452.70,196.38 L453.55,196.65 L454.40,196.91 L455.25,197.16 L456.10,197.39 L456.94,197.59 L457.79,197.79 L458.64,197.97 L459.49,198.14 L460.34,198.31 L461.19,198.48 L462.03,198.64 L462.88,198.79 L463.73,198.93 L464.58,199.06" stroke="#ff0000" stroke-width="2.40" fill="none" stroke-dasharray="9.7,4.3" stroke-linecap="butt" stroke-linejoin="round"/>
<path d="M44.59,421.76 L45.44,421.62 L46.29,421.49 L47.14,421.36 L47.99,421.25 L48.83,421.14 L49.68,421.04 L50.53,420.95 L51.38,420.87 L52.23,420.79 L53.08,420.73 L53.93,420.67 L54.77,420.62 L55.62,420.57 L56.47,420.53 L57.32,420.50 L58.17,420.47 L59.02,420.46 L59.86,420.44 L60.71,420.43 L61.56,420.43 L62.41,420.43 L63.26,420.44 L64.11,420.45 L64.96,420.46 L65.80,420.48 L66.65,420.51 L67.50,420.53 L68.35,420.56 L69.20,420.60 L70.05,420.63 L70.89,420.67 L71.74,420.71 L72.59,420.76 L73.44,420.80 L74.29,420.85 L75.14,420.90 L75.99,420.95 L76.83,421.00 L77.68,421.05 L78.53,421.10 L79.38,421.15 L80.23,421.20 L81.08,421.25 L81.92,421.30 L82.77,421.35 L83.62,421.40 L84.47,421.45 L85.32,421.50 L86.17,421.54 L87.02,421.59 L87.86,421.63 L88.71,421.66 L89.56,421.70 L90.41,421.73 L91.26,421.76 L92.11,421.79 L92.95,421.82 L93.80,421.84 L94.65,421.86 L95.50,421.87 L96.35,421.88 L97.20,421.89 L98.05,421.90 L98.89,421.91 L99.74,421.91 L100.59,421.91 L101.44,421.90 L102.29,421.90 L103.14,421.89 L103.98,421.87 L104.83,421.86 L105.68,421.84 L106.53,421.82 L107.38,421.79 L108.23,421.77 L109.08,421.74 L109.92,421.70 L110.77,421.67 L111.62,421.63 L112.47,421.59 L113.32,421.54 L114.17,421.49 L115.01,421.44 L115.86,421.39 L116.71,421.33 L117.56,421.28 L118.41,421.21 L119.26,421.15 L120.11,421.08 L120.95,421.01 L121.80,420.94 L122.65,420.86 L123.50,420.78 L124.35,420.70 L125.20,420.61 L126.04,420.52 L126.89,420.43 L127.74,420.34 L128.59,420.24 L129.44,420.14 L130.29,420.04 L131.14,419.94 L131.98,419.84 L132.83,419.73 L133.68,419.63 L134.53,419.52 L135.38,419.42 L136.23,419.31 L137.07,419.20 L137.92,419.09 L138.77,418.98 L139.62,418.87 L140.47,418.77 L141.32,418.66 L142.17,418.55 L143.01,418.45 L143.86,418.34 L144.71,418.24 L145.56,418.14 L146.41,418.04 L147.26,417.94 L148.10,417.84 L148.95,417.75 L149.80,417.66 L150.65,417.57 L151.50,417.48 L152.35,417.40 L153.20,417.32 L154.04,417.25 L154.89,417.17 L155.74,417.10 L156.59,417.02 L157.44,416.95 L158.29,416.88 L159.13,416.81 L159.98,416.75 L160.83,416.69 L161.68,416.63 L162.53,416.57 L163.38,416.51 L164.23,416.45 L165.07,416.39 L165.92,416.32 L166.77,416.25 L167.62,416.17 L168.47,416.10 L169.32,416.04 L170.16,415.98 L171.01,415.95 L171.86,415.93 L172.71,415.94 L173.56,415.96 L174.41,415.98 L175.26,416.00 L176.10,416.00 L176.95,415.97 L177.80,415.92 L178.65,415.82 L179.50,415.69 L180.35,415.53 L181.19,415.34 L182.04,415.13 L182.89,414.92 L183.74,414.70 L184.59,414.48 L185.44,414.28 L186.29,414.07 L187.13,413.87 L187.98,413.66 L188.83,413.44 L189.68,413.20 L190.53,412.95 L191.38,412.69 L192.22,412.43 L193.07,412.17 L193.92,411.91 L194.77,411.65 L195.62,411.40 L196.47,411.14 L197.32,410.88 L198.16,410.60 L199.01,410.32 L199.86,410.03 L200.71,409.73 L201.56,409.42 L202.41,409.12 L203.25,408.81 L204.10,408.50 L204.95,408.18 L205.80,407.86 L206.65,407.53 L207.50,407.20 L208.35,406.87 L209.19,406.53 L210.04,406.19 L210.89,405.86 L211.74,405.53 L212.59,405.21 L213.44,404.89 L214.28,404.58 L215.13,404.28 L215.98,404.00 L216.83,403.73 L217.68,403.49 L218.53,403.27 L219.38,403.09 L220.22,402.95 L221.07,402.84 L221.92,402.78 L222.77,402.75 L223.62,402.77 L224.47,402.83 L225.31,402.93 L226.16,403.07 L227.01,403.26 L227.86,403.48 L228.71,403.72 L229.56,403.98 L230.41,404.24 L231.25,404.48 L232.10,404.72 L232.95,404.93 L233.80,405.12 L234.65,405.29 L235.50,405.45 L236.34,405.60 L237.19,405.74 L238.04,405.86 L238.89,405.97 L239.74,406.07 L240.59,406.16 L241.44,406.24 L242.28,406.31 L243.13,406.37 L243.98,406.42 L244.83,406.47 L245.68,406.51 L246.53,406.55 L247.37,406.58 L248.22,406.61 L249.07,406.63 L249.92,406.65 L250.77,406.66 L251.62,406.67 L252.46,406.67 L253.31,406.65 L254.16,406.64 L255.01,406.61 L255.86,406.57 L256.71,406.52 L257.56,406.46 L258.40,406.39 L259.25,406.31 L260.10,406.22 L260.95,406.12 L261.80,406.02 L262.65,405.91 L263.49,405.80 L264.34,405.67 L265.19,405.54 L266.04,405.41 L266.89,405.27 L267.74,405.13 L268.59,404.98 L269.43,404.83 L270.28,404.68 L271.13,404.53 L271.98,404.37 L272.83,404.22 L273.68,404.07 L274.52,403.91 L275.37,403.75 L276.22,403.59 L277.07,403.42 L277.92,403.24 L278.77,403.05 L279.62,402.85 L280.46,402.65 L281.31,402.43 L282.16,402.21 L283.01,401.99 L283.86,401.75 L284.71,401.51 L285.55,401.25 L286.40,400.97 L287.25,400.68 L288.10,400.38 L288.95,400.07 L289.80,399.75 L290.65,399.43 L291.49,399.09 L292.34,398.74 L293.19,398.38 L294.04,398.00 L294.89,397.60 L295.74,397.16 L296.58,396.71 L297.43,396.23 L298.28,395.74 L299.13,395.23 L299.98,394.72 L300.83,394.21 L301.68,393.69 L302.52,393.18 L303.37,392.66 L304.22,392.12 L305.07,391.56 L305.92,390.96 L306.77,390.30 L307.61,389.58 L308.46,388.79 L309.31,387.93 L310.16,387.02 L311.01,386.07 L311.86,385.07 L312.71,384.04 L313.55,382.97 L314.40,381.87 L315.25,380.73 L316.10,379.55 L316.95,378.32 L317.80,377.04 L318.64,375.71 L319.49,374.34 L320.34,372.94 L321.19,371.50 L322.04,370.05 L322.89,368.60 L323.74,367.14 L324.58,365.68 L325.43,364.23 L326.28,362.78 L327.13,361.32 L327.98,359.84 L328.83,358.35 L329.67,356.84 L330.52,355.33 L331.37,353.82 L332.22,352.33 L333.07,350.87 L333.92,349.41 L334.77,347.96 L335.61,346.46 L336.46,344.90 L337.31,343.24 L338.16,341.47 L339.01,339.59 L339.86,337.63 L340.70,335.59 L341.55,333.50 L342.40,331.37 L343.25,329.16 L344.10,326.86 L344.95,324.42 L345.80,321.82 L346.64,319.04 L347.49,316.08 L348.34,312.96 L349.19,309.71 L350.04,306.35 L350.89,302.92 L351.73,299.44 L352.58,295.92 L353.43,292.38 L354.28,288.87 L355.13,285.40 L355.98,282.05 L356.83,278.85 L357.67,275.84 L358.52,273.08 L359.37,270.59 L360.22,268.39 L361.07,266.50 L361.92,264.93 L362.76,263.69 L363.61,262.77 L364.46,262.18 L365.31,261.94 L366.16,262.06 L367.01,262.57 L367.86,263.48 L368.70,264.80 L369.55,266.50 L370.40,268.56 L371.25,270.93 L372.10,273.57 L372.95,276.44 L373.79,279.50 L374.64,282.70 L375.49,286.00 L376.34,289.39 L377.19,292.81 L378.04,296.26 L378.89,299.70 L379.73,303.13 L380.58,306.53 L381.43,309.90 L382.28,313.25 L383.13,316.56 L383.98,319.84 L384.82,323.08 L385.67,326.26 L386.52,329.38 L387.37,332.43 L388.22,335.39 L389.07,338.28 L389.92,341.08 L390.76,343.80 L391.61,346.43 L392.46,348.97 L393.31,351.44 L394.16,353.83 L395.01,356.14 L395.85,358.36 L396.70,360.49 L397.55,362.53 L398.40,364.48 L399.25,366.31 L400.10,368.04 L400.95,369.66 L401.79,371.18 L402.64,372.60 L403.49,373.94 L404.34,375.23 L405.19,376.46 L406.04,377.66 L406.88,378.83 L407.73,379.98 L408.58,381.12 L409.43,382.22 L410.28,383.30 L411.13,384.33 L411.98,385.31 L412.82,386.22 L413.67,387.06 L414.52,387.83 L415.37,388.54 L416.22,389.17 L417.07,389.76 L417.91,390.29 L418.76,390.78 L419.61,391.23 L420.46,391.65 L421.31,392.03 L422.16,392.37 L423.01,392.68 L423.85,392.96 L424.70,393.21 L425.55,393.43 L426.40,393.62 L427.25,393.80 L428.10,393.94 L428.94,394.07 L429.79,394.19 L430.64,394.28 L431.49,394.36 L432.34,394.43 L433.19,394.50 L434.04,394.56 L434.88,394.62 L435.73,394.69 L436.58,394.76 L437.43,394.84 L438.28,394.93 L439.13,395.03 L439.97,395.15 L440.82,395.29 L441.67,395.45 L442.52,395.65 L443.37,395.87 L444.22,396.14 L445.07,396.43 L445.91,396.77 L446.76,397.13 L447.61,397.53 L448.46,397.94 L449.31,398.37 L450.16,398.81 L451.00,399.25 L451.85,399.69 L452.70,400.13 L453.55,400.56 L454.40,400.99 L455.25,401.41 L456.10,401.83 L456.94,402.24 L457.79,402.64 L458.64,403.04 L459.49,403.42 L460.34,403.78 L461.19,404.14 L462.03,404.49 L462.88,404.83 L463.73,405.19 L464.58,405.56" stroke="#0000ff" stroke-width="2.40" fill="none" stroke-linecap="butt" stroke-linejoin="round"/>
<path d="M44.59,421.96 L46.63,421.91 L55.11,421.69 L63.60,421.48 L72.08,421.44 L80.57,421.46 L89.05,421.44 L97.54,421.06 L106.02,420.63 L114.51,420.28 L122.99,419.34 L131.47,417.64 L139.96,416.19 L148.44,415.53 L156.93,415.06 L165.41,415.30 L173.90,416.13 L182.38,417.29 L190.87,417.58 L199.35,417.41 L207.84,416.82 L216.32,416.06 L224.81,415.01 L233.29,413.61 L241.77,411.71 L250.26,409.51 L258.74,406.94 L267.23,403.46 L275.71,398.22 L284.20,391.11 L292.68,382.81 L301.17,374.11 L309.65,364.80 L318.14,351.59 L326.62,338.23 L335.11,330.90 L343.59,329.31 L352.07,318.36 L360.56,291.34 L369.04,275.40 L377.53,290.58 L386.01,324.87 L394.50,356.34 L402.98,377.89 L411.47,390.72 L419.95,398.45 L428.44,403.31 L436.92,407.01 L445.40,409.77 L453.89,411.60 L462.37,413.11 L464.58,413.49" stroke="#ff0000" stroke-width="2.40" fill="none" stroke-dasharray="9.7,4.3" stroke-linecap="butt" stroke-linejoin="round"/>
<path d="M44.59,612.46 L45.44,612.41 L46.29,612.36 L47.14,612.31 L47.99,612.26 L48.83,612.21 L49.68,612.16 L50.53,612.12 L51.38,612.07 L52.23,612.02 L53.08,611.98 L53.93,611.93 L54.77,611.89 L55.62,611.85 L56.47,611.81 L57.32,611.77 L58.17,611.73 L59.02,611.69 L59.86,611.65 L60.71,611.61 L61.56,611.58 L62.41,611.54 L63.26,611.51 L64.11,611.48 L64.96,611.45 L65.80,611.42 L66.65,611.39 L67.50,611.36 L68.35,611.33 L69.20,611.31 L70.05,611.29 L70.89,611.26 L71.74,611.24 L72.59,611.23 L73.44,611.21 L74.29,611.19 L75.14,611.18 L75.99,611.17 L76.83,611.16 L77.68,611.15 L78.53,611.14 L79.38,611.13 L80.23,611.13 L81.08,611.13 L81.92,611.13 L82.77,611.13 L83.62,611.13 L84.47,611.13 L85.32,611.14 L86.17,611.15 L87.02,611.16 L87.86,611.17 L88.71,611.19 L89.56,611.21 L90.41,611.22 L91.26,611.24 L92.11,611.27 L92.95,611.29 L93.80,611.31 L94.65,611.33 L95.50,611.35 L96.35,611.37 L97.20,611.39 L98.05,611.41 L98.89,611.42 L99.74,611.43 L100.59,611.44 L101.44,611.44 L102.29,611.44 L103.14,611.44 L103.98,611.43 L104.83,611.41 L105.68,611.39 L106.53,611.36 L107.38,611.32 L108.23,611.28 L109.08,611.22 L109.92,611.16 L110.77,611.09 L111.62,611.01 L112.47,610.93 L113.32,610.84 L114.17,610.74 L115.01,610.64 L115.86,610.54 L116.71,610.43 L117.56,610.32 L118.41,610.21 L119.26,610.10 L120.11,609.99 L120.95,609.88 L121.80,609.77 L122.65,609.66 L123.50,609.56 L124.35,609.46 L125.20,609.36 L126.04,609.27 L126.89,609.18 L127.74,609.09 L128.59,609.01 L129.44,608.94 L130.29,608.86 L131.14,608.79 L131.98,608.73 L132.83,608.66 L133.68,608.60 L134.53,608.54 L135.38,608.48 L136.23,608.43 L137.07,608.37 L137.92,608.32 L138.77,608.27 L139.62,608.22 L140.47,608.18 L141.32,608.13 L142.17,608.08 L143.01,608.04 L143.86,607.99 L144.71,607.95 L145.56,607.90 L146.41,607.86 L147.26,607.82 L148.10,607.78 L148.95,607.73 L149.80,607.69 L150.65,607.65 L151.50,607.60 L152.35,607.56 L153.20,607.52 L154.04,607.48 L154.89,607.44 L155.74,607.39 L156.59,607.35 L157.44,607.31 L158.29,607.27 L159.13,607.23 L159.98,607.18 L160.83,607.14 L161.68,607.10 L162.53,607.06 L163.38,607.02 L164.23,606.98 L165.07,606.94 L165.92,606.90 L166.77,606.85 L167.62,606.80 L168.47,606.74 L169.32,606.68 L170.16,606.63 L171.01,606.60 L171.86,606.58 L172.71,606.58 L173.56,606.59 L174.41,606.60 L175.26,606.61 L176.10,606.60 L176.95,606.58 L177.80,606.52 L178.65,606.44 L179.50,606.33 L180.35,606.19 L181.19,606.04 L182.04,605.87 L182.89,605.70 L183.74,605.52 L184.59,605.35 L185.44,605.17 L186.29,605.01 L187.13,604.84 L187.98,604.67 L188.83,604.51 L189.68,604.35 L190.53,604.18 L191.38,604.03 L192.22,603.88 L193.07,603.74 L193.92,603.62 L194.77,603.51 L195.62,603.41 L196.47,603.32 L197.32,603.24 L198.16,603.17 L199.01,603.10 L199.86,603.04 L200.71,602.99 L201.56,602.94 L202.41,602.91 L203.25,602.88 L204.10,602.87 L204.95,602.86 L205.80,602.86 L206.65,602.87 L207.50,602.89 L208.35,602.93 L209.19,602.97 L210.04,603.02 L210.89,603.09 L211.74,603.16 L212.59,603.25 L213.44,603.33 L214.28,603.43 L215.13,603.52 L215.98,603.62 L216.83,603.71 L217.68,603.80 L218.53,603.89 L219.38,603.97 L220.22,604.05 L221.07,604.13 L221.92,604.20 L222.77,604.26 L223.62,604.32 L224.47,604.37 L225.31,604.41 L226.16,604.45 L227.01,604.48 L227.86,604.50 L228.71,604.51 L229.56,604.51 L230.41,604.51 L231.25,604.51 L232.10,604.49 L232.95,604.48 L233.80,604.45 L234.65,604.42 L235.50,604.38 L236.34,604.34 L237.19,604.29 L238.04,604.23 L238.89,604.17 L239.74,604.11 L240.59,604.04 L241.44,603.97 L242.28,603.90 L243.13,603.83 L243.98,603.76 L244.83,603.70 L245.68,603.63 L246.53,603.56 L247.37,603.49 L248.22,603.42 L249.07,603.36 L249.92,603.29 L250.77,603.22 L251.62,603.15 L252.46,603.09 L253.31,603.02 L254.16,602.95 L255.01,602.89 L255.86,602.82 L256.71,602.76 L257.56,602.70 L258.40,602.64 L259.25,602.58 L260.10,602.52 L260.95,602.46 L261.80,602.39 L262.65,602.32 L263.49,602.25 L264.34,602.18 L265.19,602.11 L266.04,602.04 L266.89,601.96 L267.74,601.89 L268.59,601.81 L269.43,601.72 L270.28,601.63 L271.13,601.54 L271.98,601.44 L272.83,601.34 L273.68,601.23 L274.52,601.12 L275.37,600.99 L276.22,600.86 L277.07,600.72 L277.92,600.57 L278.77,600.41 L279.62,600.24 L280.46,600.06 L281.31,599.86 L282.16,599.67 L283.01,599.46 L283.86,599.25 L284.71,599.03 L285.55,598.80 L286.40,598.56 L287.25,598.32 L288.10,598.07 L288.95,597.81 L289.80,597.55 L290.65,597.29 L291.49,597.02 L292.34,596.74 L293.19,596.46 L294.04,596.16 L294.89,595.84 L295.74,595.51 L296.58,595.15 L297.43,594.78 L298.28,594.38 L299.13,593.98 L299.98,593.56 L300.83,593.13 L301.68,592.70 L302.52,592.25 L303.37,591.80 L304.22,591.33 L305.07,590.84 L305.92,590.32 L306.77,589.75 L307.61,589.14 L308.46,588.49 L309.31,587.79 L310.16,587.05 L311.01,586.28 L311.86,585.48 L312.71,584.65 L313.55,583.78 L314.40,582.88 L315.25,581.94 L316.10,580.96 L316.95,579.92 L317.80,578.84 L318.64,577.72 L319.49,576.57 L320.34,575.38 L321.19,574.18 L322.04,572.95 L322.89,571.69 L323.74,570.40 L324.58,569.08 L325.43,567.72 L326.28,566.32 L327.13,564.88 L327.98,563.40 L328.83,561.89 L329.67,560.34 L330.52,558.77 L331.37,557.18 L332.22,555.58 L333.07,553.95 L333.92,552.30 L334.77,550.60 L335.61,548.85 L336.46,547.02 L337.31,545.12 L338.16,543.15 L339.01,541.13 L339.86,539.09 L340.70,537.07 L341.55,535.06 L342.40,533.06 L343.25,531.03 L344.10,528.92 L344.95,526.67 L345.80,524.23 L346.64,521.60 L347.49,518.80 L348.34,515.87 L349.19,512.88 L350.04,509.87 L350.89,506.89 L351.73,503.94 L352.58,501.01 L353.43,498.05 L354.28,495.04 L355.13,491.94 L355.98,488.71 L356.83,485.36 L357.67,481.88 L358.52,478.31 L359.37,474.72 L360.22,471.16 L361.07,467.70 L361.92,464.42 L362.76,461.38 L363.61,458.63 L364.46,456.22 L365.31,454.17 L366.16,452.51 L367.01,451.27 L367.86,450.46 L368.70,450.08 L369.55,450.17 L370.40,450.74 L371.25,451.82 L372.10,453.41 L372.95,455.50 L373.79,458.02 L374.64,460.94 L375.49,464.18 L376.34,467.70 L377.19,471.45 L378.04,475.41 L378.89,479.53 L379.73,483.80 L380.58,488.17 L381.43,492.58 L382.28,496.98 L383.13,501.31 L383.98,505.52 L384.82,509.58 L385.67,513.47 L386.52,517.20 L387.37,520.77 L388.22,524.19 L389.07,527.47 L389.92,530.62 L390.76,533.63 L391.61,536.50 L392.46,539.23 L393.31,541.83 L394.16,544.31 L395.01,546.69 L395.85,548.98 L396.70,551.21 L397.55,553.37 L398.40,555.46 L399.25,557.49 L400.10,559.43 L400.95,561.28 L401.79,563.04 L402.64,564.71 L403.49,566.27 L404.34,567.75 L405.19,569.14 L406.04,570.45 L406.88,571.69 L407.73,572.87 L408.58,573.99 L409.43,575.06 L410.28,576.09 L411.13,577.08 L411.98,578.04 L412.82,578.96 L413.67,579.85 L414.52,580.72 L415.37,581.56 L416.22,582.36 L417.07,583.13 L417.91,583.85 L418.76,584.54 L419.61,585.19 L420.46,585.79 L421.31,586.36 L422.16,586.89 L423.01,587.39 L423.85,587.86 L424.70,588.29 L425.55,588.70 L426.40,589.09 L427.25,589.44 L428.10,589.77 L428.94,590.08 L429.79,590.37 L430.64,590.63 L431.49,590.88 L432.34,591.11 L433.19,591.32 L434.04,591.51 L434.88,591.69 L435.73,591.85 L436.58,592.00 L437.43,592.13 L438.28,592.25 L439.13,592.36 L439.97,592.46 L440.82,592.55 L441.67,592.64 L442.52,592.71 L443.37,592.77 L444.22,592.83 L445.07,592.89 L445.91,592.93 L446.76,592.98 L447.61,593.02 L448.46,593.06 L449.31,593.09 L450.16,593.13 L451.00,593.17 L451.85,593.20 L452.70,593.24 L453.55,593.29 L454.40,593.33 L455.25,593.37 L456.10,593.42 L456.94,593.48 L457.79,593.55 L458.64,593.63 L459.49,593.72 L460.34,593.82 L461.19,593.93 L462.03,594.01 L462.88,594.05 L463.73,594.03 L464.58,593.91" stroke="#0000ff" stroke-width="2.40" fill="none" stroke-linecap="butt" stroke-linejoin="round"/>
<path d="M44.59,612.47 L46.63,612.34 L55.11,611.81 L63.60,611.28 L72.08,610.83 L80.57,610.42 L89.05,609.99 L97.54,609.33 L106.02,608.65 L114.51,607.96 L122.99,607.12 L131.47,606.26 L139.96,605.45 L148.44,604.82 L156.93,604.26 L165.41,604.02 L173.90,604.38 L182.38,605.44 L190.87,606.31 L199.35,606.69 L207.84,606.76 L216.32,606.59 L224.81,606.18 L233.29,605.48 L241.77,604.17 L250.26,602.27 L258.74,599.73 L267.23,596.49 L275.71,592.43 L284.20,586.82 L292.68,578.77 L301.17,568.68 L309.65,557.17 L318.14,545.28 L326.62,536.67 L335.11,532.10 L343.59,534.56 L352.07,537.87 L360.56,537.10 L369.04,529.92 L377.53,522.23 L386.01,525.94 L394.50,541.23 L402.98,559.41 L411.47,574.49 L419.95,584.01 L428.44,590.12 L436.92,594.96 L445.40,598.11 L453.89,600.12 L462.37,601.91 L464.58,602.34" stroke="#ff0000" stroke-width="2.40" fill="none" stroke-dasharray="9.7,4.3" stroke-linecap="butt" stroke-linejoin="round"/>
<path d="M548.84,208.45 L549.69,208.35 L550.54,208.25 L551.38,208.17 L552.23,208.09 L553.08,208.02 L553.93,207.95 L554.78,207.89 L555.62,207.83 L556.47,207.77 L557.32,207.72 L558.17,207.67 L559.02,207.63 L559.86,207.60 L560.71,207.56 L561.56,207.53 L562.41,207.50 L563.26,207.48 L564.10,207.45 L564.95,207.43 L565.80,207.41 L566.65,207.39 L567.50,207.38 L568.34,207.36 L569.19,207.35 L570.04,207.33 L570.89,207.32 L571.74,207.31 L572.58,207.29 L573.43,207.28 L574.28,207.26 L575.13,207.24 L575.98,207.23 L576.82,207.21 L577.67,207.18 L578.52,207.16 L579.37,207.14 L580.22,207.11 L581.06,207.08 L581.91,207.05 L582.76,207.01 L583.61,206.97 L584.46,206.92 L585.30,206.87 L586.15,206.82 L587.00,206.77 L587.85,206.71 L588.70,206.65 L589.54,206.59 L590.39,206.53 L591.24,206.46 L592.09,206.39 L592.94,206.32 L593.78,206.25 L594.63,206.18 L595.48,206.12 L596.33,206.06 L597.18,206.01 L598.02,205.96 L598.87,205.92 L599.72,205.88 L600.57,205.84 L601.42,205.81 L602.26,205.77 L603.11,205.73 L603.96,205.69 L604.81,205.65 L605.66,205.60 L606.50,205.56 L607.35,205.51 L608.20,205.46 L609.05,205.41 L609.90,205.36 L610.74,205.31 L611.59,205.25 L612.44,205.19 L613.29,205.13 L614.14,205.06 L614.98,205.00 L615.83,204.93 L616.68,204.85 L617.53,204.77 L618.38,204.69 L619.22,204.61 L620.07,204.52 L620.92,204.43 L621.77,204.33 L622.62,204.22 L623.46,204.11 L624.31,203.99 L625.16,203.86 L626.01,203.72 L626.86,203.56 L627.70,203.40 L628.55,203.21 L629.40,203.02 L630.25,202.80 L631.10,202.57 L631.94,202.32 L632.79,202.06 L633.64,201.78 L634.49,201.49 L635.34,201.19 L636.18,200.88 L637.03,200.56 L637.88,200.23 L638.73,199.89 L639.58,199.56 L640.42,199.22 L641.27,198.89 L642.12,198.57 L642.97,198.25 L643.82,197.95 L644.66,197.67 L645.51,197.41 L646.36,197.17 L647.21,196.96 L648.06,196.77 L648.90,196.61 L649.75,196.48 L650.60,196.38 L651.45,196.32 L652.30,196.30 L653.14,196.32 L653.99,196.40 L654.84,196.53 L655.69,196.71 L656.54,196.94 L657.38,197.20 L658.23,197.48 L659.08,197.78 L659.93,198.07 L660.78,198.34 L661.62,198.60 L662.47,198.84 L663.32,199.06 L664.17,199.25 L665.02,199.41 L665.86,199.55 L666.71,199.67 L667.56,199.76 L668.41,199.83 L669.26,199.88 L670.10,199.92 L670.95,199.94 L671.80,199.94 L672.65,199.93 L673.50,199.92 L674.34,199.90 L675.19,199.88 L676.04,199.86 L676.89,199.85 L677.74,199.84 L678.58,199.84 L679.43,199.85 L680.28,199.87 L681.13,199.91 L681.98,199.96 L682.82,200.02 L683.67,200.10 L684.52,200.18 L685.37,200.28 L686.22,200.38 L687.06,200.49 L687.91,200.60 L688.76,200.71 L689.61,200.82 L690.46,200.93 L691.30,201.04 L692.15,201.15 L693.00,201.25 L693.85,201.35 L694.70,201.44 L695.54,201.53 L696.39,201.60 L697.24,201.67 L698.09,201.73 L698.94,201.78 L699.78,201.82 L700.63,201.86 L701.48,201.89 L702.33,201.92 L703.18,201.93 L704.02,201.94 L704.87,201.94 L705.72,201.92 L706.57,201.89 L707.42,201.84 L708.26,201.78 L709.11,201.71 L709.96,201.62 L710.81,201.54 L711.66,201.44 L712.50,201.35 L713.35,201.26 L714.20,201.17 L715.05,201.08 L715.90,200.99 L716.74,200.89 L717.59,200.77 L718.44,200.63 L719.29,200.47 L720.14,200.28 L720.98,200.06 L721.83,199.83 L722.68,199.57 L723.53,199.30 L724.38,199.02 L725.22,198.73 L726.07,198.43 L726.92,198.13 L727.77,197.82 L728.62,197.51 L729.46,197.19 L730.31,196.86 L731.16,196.52 L732.01,196.16 L732.86,195.80 L733.70,195.43 L734.55,195.05 L735.40,194.66 L736.25,194.26 L737.10,193.85 L737.94,193.42 L738.79,192.97 L739.64,192.50 L740.49,192.01 L741.34,191.49 L742.18,190.95 L743.03,190.40 L743.88,189.84 L744.73,189.25 L745.58,188.65 L746.42,188.03 L747.27,187.37 L748.12,186.66 L748.97,185.92 L749.82,185.12 L750.66,184.28 L751.51,183.40 L752.36,182.47 L753.21,181.50 L754.06,180.49 L754.90,179.42 L755.75,178.30 L756.60,177.13 L757.45,175.89 L758.30,174.60 L759.14,173.25 L759.99,171.85 L760.84,170.40 L761.69,168.88 L762.54,167.30 L763.38,165.63 L764.23,163.86 L765.08,161.98 L765.93,159.97 L766.78,157.81 L767.62,155.50 L768.47,153.03 L769.32,150.41 L770.17,147.64 L771.02,144.73 L771.86,141.70 L772.71,138.55 L773.56,135.27 L774.41,131.86 L775.26,128.27 L776.10,124.47 L776.95,120.41 L777.80,116.08 L778.65,111.48 L779.50,106.65 L780.34,101.62 L781.19,96.47 L782.04,91.23 L782.89,85.91 L783.74,80.50 L784.58,74.96 L785.43,69.27 L786.28,63.43 L787.13,57.52 L787.98,51.67 L788.82,46.05 L789.67,40.87 L790.52,36.31 L791.37,32.50 L792.22,29.53 L793.06,27.43 L793.91,26.21 L794.76,25.84 L795.61,26.34 L796.46,27.70 L797.30,29.95 L798.15,33.08 L799.00,37.07 L799.85,41.82 L800.70,47.21 L801.54,53.03 L802.39,59.08 L803.24,65.17 L804.09,71.17 L804.94,77.01 L805.78,82.68 L806.63,88.23 L807.48,93.70 L808.33,99.11 L809.18,104.46 L810.02,109.69 L810.87,114.75 L811.72,119.57 L812.57,124.10 L813.42,128.31 L814.26,132.18 L815.11,135.75 L815.96,139.04 L816.81,142.08 L817.66,144.93 L818.50,147.61 L819.35,150.17 L820.20,152.63 L821.05,155.01 L821.90,157.30 L822.74,159.50 L823.59,161.60 L824.44,163.57 L825.29,165.41 L826.14,167.14 L826.98,168.75 L827.83,170.26 L828.68,171.68 L829.53,173.03 L830.38,174.30 L831.22,175.52 L832.07,176.67 L832.92,177.76 L833.77,178.78 L834.62,179.75 L835.46,180.66 L836.31,181.52 L837.16,182.34 L838.01,183.12 L838.86,183.86 L839.70,184.57 L840.55,185.24 L841.40,185.88 L842.25,186.49 L843.10,187.05 L843.94,187.59 L844.79,188.09 L845.64,188.57 L846.49,189.01 L847.34,189.42 L848.18,189.79 L849.03,190.13 L849.88,190.44 L850.73,190.70 L851.58,190.93 L852.42,191.12 L853.27,191.27 L854.12,191.39 L854.97,191.48 L855.82,191.54 L856.66,191.56 L857.51,191.56 L858.36,191.52 L859.21,191.45 L860.06,191.36 L860.90,191.23 L861.75,191.08 L862.60,190.91 L863.45,190.71 L864.30,190.49 L865.14,190.25 L865.99,189.99 L866.84,189.71 L867.69,189.42 L868.54,189.10 L869.38,188.76 L870.23,188.41 L871.08,188.04 L871.93,187.66 L872.78,187.27 L873.62,186.89 L874.47,186.52 L875.32,186.18 L876.17,185.86 L877.02,185.58 L877.86,185.33 L878.71,185.14 L879.56,184.99 L880.41,184.92" stroke="#0000ff" stroke-width="2.40" fill="none" stroke-linecap="butt" stroke-linejoin="round"/>
<path d="M548.84,208.49 L549.69,208.40 L550.54,208.32 L551.38,208.25 L552.23,208.19 L553.08,208.14 L553.93,208.09 L554.78,208.04 L555.62,208.00 L556.47,207.96 L557.32,207.92 L558.17,207.89 L559.02,207.86 L559.86,207.83 L560.71,207.81 L561.56,207.78 L562.41,207.76 L563.26,207.73 L564.10,207.70 L564.95,207.67 L565.80,207.64 L566.65,207.60 L567.50,207.56 L568.34,207.52 L569.19,207.47 L570.04,207.42 L570.89,207.36 L571.74,207.30 L572.58,207.23 L573.43,207.15 L574.28,207.07 L575.13,206.97 L575.98,206.87 L576.82,206.76 L577.67,206.63 L578.52,206.50 L579.37,206.35 L580.22,206.19 L581.06,206.02 L581.91,205.84 L582.76,205.66 L583.61,205.46 L584.46,205.26 L585.30,205.04 L586.15,204.83 L587.00,204.60 L587.85,204.37 L588.70,204.14 L589.54,203.90 L590.39,203.66 L591.24,203.42 L592.09,203.17 L592.94,202.93 L593.78,202.69 L594.63,202.44 L595.48,202.20 L596.33,201.96 L597.18,201.72 L598.02,201.48 L598.87,201.24 L599.72,201.01 L600.57,200.77 L601.42,200.55 L602.26,200.32 L603.11,200.10 L603.96,199.89 L604.81,199.69 L605.66,199.50 L606.50,199.31 L607.35,199.14 L608.20,198.97 L609.05,198.81 L609.90,198.67 L610.74,198.53 L611.59,198.41 L612.44,198.30 L613.29,198.20 L614.14,198.12 L614.98,198.05 L615.83,198.00 L616.68,197.96 L617.53,197.94 L618.38,197.93 L619.22,197.94 L620.07,197.96 L620.92,198.01 L621.77,198.07 L622.62,198.15 L623.46,198.25 L624.31,198.37 L625.16,198.51 L626.01,198.67 L626.86,198.85 L627.70,199.04 L628.55,199.25 L629.40,199.48 L630.25,199.72 L631.10,199.96 L631.94,200.21 L632.79,200.46 L633.64,200.72 L634.49,200.97 L635.34,201.22 L636.18,201.47 L637.03,201.72 L637.88,201.96 L638.73,202.19 L639.58,202.41 L640.42,202.62 L641.27,202.82 L642.12,203.01 L642.97,203.19 L643.82,203.35 L644.66,203.50 L645.51,203.64 L646.36,203.77 L647.21,203.89 L648.06,204.00 L648.90,204.10 L649.75,204.19 L650.60,204.27 L651.45,204.33 L652.30,204.38 L653.14,204.43 L653.99,204.46 L654.84,204.49 L655.69,204.51 L656.54,204.53 L657.38,204.54 L658.23,204.55 L659.08,204.55 L659.93,204.54 L660.78,204.53 L661.62,204.50 L662.47,204.47 L663.32,204.42 L664.17,204.37 L665.02,204.31 L665.86,204.24 L666.71,204.17 L667.56,204.09 L668.41,204.01 L669.26,203.93 L670.10,203.84 L670.95,203.75 L671.80,203.65 L672.65,203.54 L673.50,203.43 L674.34,203.32 L675.19,203.20 L676.04,203.08 L676.89,202.96 L677.74,202.84 L678.58,202.72 L679.43,202.60 L680.28,202.47 L681.13,202.35 L681.98,202.22 L682.82,202.09 L683.67,201.96 L684.52,201.82 L685.37,201.68 L686.22,201.53 L687.06,201.37 L687.91,201.21 L688.76,201.03 L689.61,200.85 L690.46,200.65 L691.30,200.44 L692.15,200.22 L693.00,199.99 L693.85,199.75 L694.70,199.51 L695.54,199.25 L696.39,198.98 L697.24,198.70 L698.09,198.41 L698.94,198.11 L699.78,197.79 L700.63,197.47 L701.48,197.13 L702.33,196.78 L703.18,196.42 L704.02,196.05 L704.87,195.68 L705.72,195.30 L706.57,194.91 L707.42,194.52 L708.26,194.12 L709.11,193.70 L709.96,193.27 L710.81,192.82 L711.66,192.35 L712.50,191.85 L713.35,191.33 L714.20,190.76 L715.05,190.16 L715.90,189.52 L716.74,188.84 L717.59,188.11 L718.44,187.34 L719.29,186.52 L720.14,185.64 L720.98,184.71 L721.83,183.72 L722.68,182.67 L723.53,181.56 L724.38,180.38 L725.22,179.15 L726.07,177.85 L726.92,176.49 L727.77,175.07 L728.62,173.58 L729.46,171.99 L730.31,170.31 L731.16,168.53 L732.01,166.63 L732.86,164.62 L733.70,162.50 L734.55,160.29 L735.40,157.98 L736.25,155.58 L737.10,153.09 L737.94,150.47 L738.79,147.73 L739.64,144.83 L740.49,141.76 L741.34,138.51 L742.18,135.09 L743.03,131.49 L743.88,127.75 L744.73,123.89 L745.58,119.98 L746.42,116.05 L747.27,112.19 L748.12,108.47 L748.97,104.96 L749.82,101.75 L750.66,98.91 L751.51,96.51 L752.36,94.60 L753.21,93.20 L754.06,92.28 L754.90,91.82 L755.75,91.78 L756.60,92.13 L757.45,92.88 L758.30,94.03 L759.14,95.62 L759.99,97.67 L760.84,100.18 L761.69,103.11 L762.54,106.36 L763.38,109.80 L764.23,113.28 L765.08,116.68 L765.93,119.93 L766.78,122.99 L767.62,125.88 L768.47,128.66 L769.32,131.35 L770.17,133.98 L771.02,136.54 L771.86,138.98 L772.71,141.25 L773.56,143.29 L774.41,145.06 L775.26,146.54 L776.10,147.74 L776.95,148.70 L777.80,149.45 L778.65,150.02 L779.50,150.45 L780.34,150.76 L781.19,150.97 L782.04,151.06 L782.89,151.05 L783.74,150.92 L784.58,150.66 L785.43,150.23 L786.28,149.65 L787.13,148.88 L787.98,147.95 L788.82,146.85 L789.67,145.60 L790.52,144.21 L791.37,142.69 L792.22,141.06 L793.06,139.32 L793.91,137.49 L794.76,135.59 L795.61,133.68 L796.46,131.80 L797.30,130.02 L798.15,128.42 L799.00,127.06 L799.85,125.97 L800.70,125.19 L801.54,124.70 L802.39,124.51 L803.24,124.59 L804.09,124.94 L804.94,125.55 L805.78,126.44 L806.63,127.59 L807.48,129.03 L808.33,130.76 L809.18,132.74 L810.02,134.97 L810.87,137.40 L811.72,139.99 L812.57,142.69 L813.42,145.44 L814.26,148.20 L815.11,150.90 L815.96,153.52 L816.81,156.00 L817.66,158.35 L818.50,160.56 L819.35,162.63 L820.20,164.57 L821.05,166.39 L821.90,168.12 L822.74,169.76 L823.59,171.33 L824.44,172.84 L825.29,174.29 L826.14,175.68 L826.98,177.02 L827.83,178.30 L828.68,179.53 L829.53,180.69 L830.38,181.79 L831.22,182.84 L832.07,183.83 L832.92,184.77 L833.77,185.67 L834.62,186.52 L835.46,187.32 L836.31,188.08 L837.16,188.80 L838.01,189.48 L838.86,190.12 L839.70,190.73 L840.55,191.30 L841.40,191.84 L842.25,192.35 L843.10,192.83 L843.94,193.28 L844.79,193.71 L845.64,194.12 L846.49,194.50 L847.34,194.86 L848.18,195.19 L849.03,195.51 L849.88,195.82 L850.73,196.11 L851.58,196.38 L852.42,196.65 L853.27,196.90 L854.12,197.14 L854.97,197.38 L855.82,197.60 L856.66,197.82 L857.51,198.03 L858.36,198.24 L859.21,198.44 L860.06,198.63 L860.90,198.82 L861.75,199.01 L862.60,199.18 L863.45,199.35 L864.30,199.52 L865.14,199.68 L865.99,199.84 L866.84,199.99 L867.69,200.14 L868.54,200.28 L869.38,200.42 L870.23,200.55 L871.08,200.68 L871.93,200.81 L872.78,200.93 L873.62,201.05 L874.47,201.17 L875.32,201.28 L876.17,201.38 L877.02,201.49 L877.86,201.59 L878.71,201.70 L879.56,201.80 L880.41,201.90 L881.26,201.99 L882.10,202.05 L882.95,202.09 L883.80,202.09" stroke="#ff0000" stroke-width="2.40" fill="none" stroke-dasharray="9.7,4.3" stroke-linecap="butt" stroke-linejoin="round"/>
<path d="M548.84,422.44 L549.69,422.45 L550.54,422.46 L551.38,422.47 L552.23,422.48 L553.08,422.49 L553.93,422.50 L554.78,422.50 L555.62,422.51 L556.47,422.51 L557.32,422.51 L558.17,422.51 L559.02,422.51 L559.86,422.51 L560.71,422.51 L561.56,422.50 L562.41,422.50 L563.26,422.50 L564.10,422.49 L564.95,422.48 L565.80,422.48 L566.65,422.47 L567.50,422.46 L568.34,422.45 L569.19,422.44 L570.04,422.43 L570.89,422.41 L571.74,422.40 L572.58,422.39 L573.43,422.37 L574.28,422.36 L575.13,422.35 L575.98,422.33 L576.82,422.31 L577.67,422.30 L578.52,422.28 L579.37,422.27 L580.22,422.25 L581.06,422.23 L581.91,422.21 L582.76,422.19 L583.61,422.18 L584.46,422.16 L585.30,422.14 L586.15,422.12 L587.00,422.10 L587.85,422.08 L588.70,422.06 L589.54,422.04 L590.39,422.02 L591.24,422.00 L592.09,421.98 L592.94,421.96 L593.78,421.94 L594.63,421.92 L595.48,421.90 L596.33,421.88 L597.18,421.86 L598.02,421.84 L598.87,421.82 L599.72,421.80 L600.57,421.78 L601.42,421.76 L602.26,421.74 L603.11,421.72 L603.96,421.70 L604.81,421.68 L605.66,421.65 L606.50,421.63 L607.35,421.61 L608.20,421.58 L609.05,421.56 L609.90,421.53 L610.74,421.50 L611.59,421.48 L612.44,421.45 L613.29,421.42 L614.14,421.39 L614.98,421.36 L615.83,421.33 L616.68,421.29 L617.53,421.26 L618.38,421.22 L619.22,421.18 L620.07,421.15 L620.92,421.11 L621.77,421.07 L622.62,421.02 L623.46,420.98 L624.31,420.94 L625.16,420.89 L626.01,420.84 L626.86,420.79 L627.70,420.74 L628.55,420.69 L629.40,420.63 L630.25,420.58 L631.10,420.52 L631.94,420.46 L632.79,420.40 L633.64,420.34 L634.49,420.28 L635.34,420.21 L636.18,420.15 L637.03,420.08 L637.88,420.02 L638.73,419.95 L639.58,419.89 L640.42,419.82 L641.27,419.75 L642.12,419.69 L642.97,419.62 L643.82,419.55 L644.66,419.49 L645.51,419.42 L646.36,419.36 L647.21,419.29 L648.06,419.23 L648.90,419.17 L649.75,419.11 L650.60,419.05 L651.45,418.99 L652.30,418.93 L653.14,418.87 L653.99,418.82 L654.84,418.77 L655.69,418.71 L656.54,418.66 L657.38,418.62 L658.23,418.57 L659.08,418.53 L659.93,418.48 L660.78,418.44 L661.62,418.40 L662.47,418.36 L663.32,418.32 L664.17,418.28 L665.02,418.24 L665.86,418.20 L666.71,418.17 L667.56,418.13 L668.41,418.09 L669.26,418.06 L670.10,418.02 L670.95,417.98 L671.80,417.93 L672.65,417.88 L673.50,417.84 L674.34,417.80 L675.19,417.77 L676.04,417.75 L676.89,417.75 L677.74,417.76 L678.58,417.77 L679.43,417.78 L680.28,417.78 L681.13,417.77 L681.98,417.75 L682.82,417.70 L683.67,417.64 L684.52,417.57 L685.37,417.50 L686.22,417.41 L687.06,417.32 L687.91,417.23 L688.76,417.14 L689.61,417.04 L690.46,416.94 L691.30,416.84 L692.15,416.72 L693.00,416.59 L693.85,416.45 L694.70,416.29 L695.54,416.12 L696.39,415.93 L697.24,415.74 L698.09,415.53 L698.94,415.31 L699.78,415.08 L700.63,414.83 L701.48,414.58 L702.33,414.31 L703.18,414.04 L704.02,413.75 L704.87,413.46 L705.72,413.15 L706.57,412.85 L707.42,412.53 L708.26,412.21 L709.11,411.88 L709.96,411.54 L710.81,411.19 L711.66,410.83 L712.50,410.47 L713.35,410.09 L714.20,409.70 L715.05,409.31 L715.90,408.92 L716.74,408.53 L717.59,408.14 L718.44,407.75 L719.29,407.37 L720.14,407.01 L720.98,406.66 L721.83,406.33 L722.68,406.03 L723.53,405.76 L724.38,405.51 L725.22,405.29 L726.07,405.10 L726.92,404.92 L727.77,404.76 L728.62,404.62 L729.46,404.48 L730.31,404.34 L731.16,404.21 L732.01,404.08 L732.86,403.95 L733.70,403.83 L734.55,403.72 L735.40,403.62 L736.25,403.53 L737.10,403.46 L737.94,403.39 L738.79,403.34 L739.64,403.30 L740.49,403.26 L741.34,403.23 L742.18,403.20 L743.03,403.18 L743.88,403.17 L744.73,403.17 L745.58,403.17 L746.42,403.19 L747.27,403.20 L748.12,403.23 L748.97,403.25 L749.82,403.29 L750.66,403.32 L751.51,403.36 L752.36,403.40 L753.21,403.44 L754.06,403.48 L754.90,403.53 L755.75,403.57 L756.60,403.62 L757.45,403.65 L758.30,403.69 L759.14,403.71 L759.99,403.72 L760.84,403.72 L761.69,403.71 L762.54,403.68 L763.38,403.64 L764.23,403.58 L765.08,403.51 L765.93,403.42 L766.78,403.32 L767.62,403.21 L768.47,403.10 L769.32,402.97 L770.17,402.85 L771.02,402.72 L771.86,402.59 L772.71,402.46 L773.56,402.33 L774.41,402.20 L775.26,402.07 L776.10,401.95 L776.95,401.84 L777.80,401.74 L778.65,401.64 L779.50,401.56 L780.34,401.48 L781.19,401.42 L782.04,401.36 L782.89,401.30 L783.74,401.25 L784.58,401.20 L785.43,401.15 L786.28,401.11 L787.13,401.06 L787.98,401.01 L788.82,400.95 L789.67,400.88 L790.52,400.80 L791.37,400.70 L792.22,400.59 L793.06,400.45 L793.91,400.29 L794.76,400.10 L795.61,399.89 L796.46,399.64 L797.30,399.35 L798.15,399.03 L799.00,398.67 L799.85,398.26 L800.70,397.82 L801.54,397.34 L802.39,396.84 L803.24,396.30 L804.09,395.74 L804.94,395.16 L805.78,394.56 L806.63,393.94 L807.48,393.31 L808.33,392.64 L809.18,391.96 L810.02,391.25 L810.87,390.51 L811.72,389.75 L812.57,388.97 L813.42,388.18 L814.26,387.40 L815.11,386.62 L815.96,385.87 L816.81,385.14 L817.66,384.43 L818.50,383.75 L819.35,383.10 L820.20,382.47 L821.05,381.87 L821.90,381.29 L822.74,380.74 L823.59,380.20 L824.44,379.69 L825.29,379.19 L826.14,378.70 L826.98,378.21 L827.83,377.71 L828.68,377.20 L829.53,376.66 L830.38,376.10 L831.22,375.51 L832.07,374.90 L832.92,374.26 L833.77,373.59 L834.62,372.89 L835.46,372.15 L836.31,371.38 L837.16,370.55 L838.01,369.67 L838.86,368.73 L839.70,367.75 L840.55,366.72 L841.40,365.66 L842.25,364.57 L843.10,363.45 L843.94,362.32 L844.79,361.16 L845.64,359.96 L846.49,358.71 L847.34,357.40 L848.18,356.00 L849.03,354.50 L849.88,352.88 L850.73,351.15 L851.58,349.31 L852.42,347.38 L853.27,345.37 L854.12,343.32 L854.97,341.22 L855.82,339.06 L856.66,336.83 L857.51,334.50 L858.36,332.07 L859.21,329.53 L860.06,326.88 L860.90,324.14 L861.75,321.33 L862.60,318.47 L863.45,315.56 L864.30,312.62 L865.14,309.65 L865.99,306.66 L866.84,303.65 L867.69,300.61 L868.54,297.57 L869.38,294.53 L870.23,291.54 L871.08,288.61 L871.93,285.77 L872.78,283.04 L873.62,280.44 L874.47,277.96 L875.32,275.63 L876.17,273.46 L877.02,271.46 L877.86,269.66 L878.71,268.07 L879.56,266.72 L880.41,265.60 L881.26,264.73 L882.10,264.06 L882.95,263.59 L883.80,263.27 L884.65,263.11 L885.50,263.10 L886.34,263.26 L887.19,263.62 L888.04,264.21 L888.89,265.05 L889.74,266.16 L890.58,267.54 L891.43,269.18 L892.28,271.07 L893.13,273.18 L893.98,275.47 L894.82,277.90 L895.67,280.44 L896.52,283.05 L897.37,285.72 L898.22,288.45 L899.06,291.25 L899.91,294.15 L900.76,297.17 L901.61,300.32 L902.46,303.57 L903.30,306.88 L904.15,310.18 L905.00,313.42 L905.85,316.53 L906.70,319.50 L907.54,322.30 L908.39,324.94 L909.24,327.43 L910.09,329.78 L910.94,332.02 L911.78,334.17 L912.63,336.27 L913.48,338.32 L914.33,340.34 L915.18,342.33 L916.02,344.28 L916.87,346.18 L917.72,348.02 L918.57,349.80 L919.42,351.49 L920.26,353.10 L921.11,354.63 L921.96,356.08 L922.81,357.46 L923.66,358.76 L924.50,360.00 L925.35,361.17 L926.20,362.28 L927.05,363.33 L927.90,364.33 L928.74,365.27 L929.59,366.15 L930.44,367.00 L931.29,367.80 L932.14,368.56 L932.98,369.28 L933.83,369.98 L934.68,370.64 L935.53,371.27 L936.38,371.88 L937.22,372.46 L938.07,373.03 L938.92,373.59 L939.77,374.14 L940.62,374.68 L941.46,375.23 L942.31,375.79 L943.16,376.36 L944.01,376.94 L944.86,377.54 L945.70,378.16 L946.55,378.79 L947.40,379.45 L948.25,380.13 L949.10,380.84 L949.94,381.58 L950.79,382.35 L951.64,383.16 L952.49,384.00 L953.34,384.87 L954.18,385.75 L955.03,386.64 L955.88,387.54 L956.73,388.42 L957.58,389.30 L958.42,390.16 L959.27,391.00 L960.12,391.82 L960.97,392.61 L961.82,393.35 L962.66,394.03 L963.51,394.65 L964.36,395.19 L965.21,395.68 L966.06,396.13 L966.90,396.59 L967.75,397.10 L968.60,397.68" stroke="#0000ff" stroke-width="2.40" fill="none" stroke-linecap="butt" stroke-linejoin="round"/>
<path d="M548.84,422.45 L550.88,422.40 L559.36,422.18 L567.84,421.97 L576.32,421.87 L584.80,421.80 L593.28,421.69 L601.76,421.30 L610.24,420.86 L618.72,420.49 L627.20,419.72 L635.68,418.49 L644.16,417.39 L652.64,416.64 L661.12,415.90 L669.60,415.49 L678.08,415.09 L686.56,415.11 L695.04,415.45 L703.52,415.62 L712.00,415.61 L720.48,415.20 L728.96,414.43 L737.44,413.18 L745.92,411.46 L754.40,409.23 L762.88,406.50 L771.36,403.13 L779.84,398.18 L788.32,391.32 L796.80,383.60 L805.28,375.77 L813.76,366.63 L822.24,354.80 L830.72,341.00 L839.20,326.73 L847.68,309.64 L856.16,282.44 L864.64,259.31 L873.12,253.02 L881.60,276.17 L890.08,313.20 L898.56,343.94 L907.04,358.80 L915.52,369.82 L924.00,381.57 L932.48,393.82 L940.96,403.65 L949.44,406.65 L957.92,408.32 L966.40,410.02 L968.60,410.47" stroke="#ff0000" stroke-width="2.40" fill="none" stroke-dasharray="9.7,4.3" stroke-linecap="butt" stroke-linejoin="round"/>
<path d="M548.84,612.45 L549.69,612.42 L550.54,612.39 L551.38,612.37 L552.23,612.34 L553.08,612.32 L553.93,612.29 L554.78,612.27 L555.62,612.25 L556.47,612.22 L557.32,612.20 L558.17,612.18 L559.02,612.16 L559.86,612.14 L560.71,612.12 L561.56,612.10 L562.41,612.08 L563.26,612.06 L564.10,612.04 L564.95,612.02 L565.80,612.01 L566.65,611.99 L567.50,611.97 L568.34,611.96 L569.19,611.94 L570.04,611.92 L570.89,611.91 L571.74,611.90 L572.58,611.88 L573.43,611.87 L574.28,611.86 L575.13,611.84 L575.98,611.83 L576.82,611.82 L577.67,611.81 L578.52,611.80 L579.37,611.79 L580.22,611.78 L581.06,611.77 L581.91,611.76 L582.76,611.75 L583.61,611.75 L584.46,611.74 L585.30,611.73 L586.15,611.73 L587.00,611.72 L587.85,611.72 L588.70,611.71 L589.54,611.71 L590.39,611.71 L591.24,611.70 L592.09,611.70 L592.94,611.70 L593.78,611.70 L594.63,611.70 L595.48,611.70 L596.33,611.70 L597.18,611.70 L598.02,611.70 L598.87,611.70 L599.72,611.69 L600.57,611.69 L601.42,611.69 L602.26,611.68 L603.11,611.68 L603.96,611.67 L604.81,611.66 L605.66,611.65 L606.50,611.64 L607.35,611.63 L608.20,611.61 L609.05,611.59 L609.90,611.57 L610.74,611.55 L611.59,611.52 L612.44,611.49 L613.29,611.45 L614.14,611.42 L614.98,611.38 L615.83,611.33 L616.68,611.29 L617.53,611.24 L618.38,611.19 L619.22,611.13 L620.07,611.08 L620.92,611.02 L621.77,610.96 L622.62,610.90 L623.46,610.83 L624.31,610.77 L625.16,610.70 L626.01,610.64 L626.86,610.57 L627.70,610.50 L628.55,610.43 L629.40,610.37 L630.25,610.30 L631.10,610.23 L631.94,610.16 L632.79,610.10 L633.64,610.03 L634.49,609.96 L635.34,609.89 L636.18,609.83 L637.03,609.76 L637.88,609.70 L638.73,609.63 L639.58,609.57 L640.42,609.50 L641.27,609.44 L642.12,609.38 L642.97,609.32 L643.82,609.26 L644.66,609.20 L645.51,609.14 L646.36,609.08 L647.21,609.03 L648.06,608.97 L648.90,608.92 L649.75,608.87 L650.60,608.82 L651.45,608.77 L652.30,608.72 L653.14,608.67 L653.99,608.63 L654.84,608.58 L655.69,608.54 L656.54,608.50 L657.38,608.45 L658.23,608.41 L659.08,608.37 L659.93,608.33 L660.78,608.29 L661.62,608.25 L662.47,608.21 L663.32,608.18 L664.17,608.14 L665.02,608.10 L665.86,608.07 L666.71,608.04 L667.56,608.00 L668.41,607.97 L669.26,607.93 L670.10,607.89 L670.95,607.85 L671.80,607.80 L672.65,607.75 L673.50,607.70 L674.34,607.66 L675.19,607.64 L676.04,607.63 L676.89,607.63 L677.74,607.65 L678.58,607.68 L679.43,607.70 L680.28,607.71 L681.13,607.70 L681.98,607.66 L682.82,607.60 L683.67,607.50 L684.52,607.38 L685.37,607.24 L686.22,607.08 L687.06,606.91 L687.91,606.74 L688.76,606.57 L689.61,606.41 L690.46,606.25 L691.30,606.10 L692.15,605.94 L693.00,605.78 L693.85,605.61 L694.70,605.44 L695.54,605.26 L696.39,605.09 L697.24,604.92 L698.09,604.76 L698.94,604.62 L699.78,604.48 L700.63,604.35 L701.48,604.22 L702.33,604.09 L703.18,603.97 L704.02,603.85 L704.87,603.74 L705.72,603.64 L706.57,603.54 L707.42,603.46 L708.26,603.38 L709.11,603.32 L709.96,603.26 L710.81,603.21 L711.66,603.16 L712.50,603.13 L713.35,603.10 L714.20,603.08 L715.05,603.07 L715.90,603.08 L716.74,603.09 L717.59,603.10 L718.44,603.13 L719.29,603.17 L720.14,603.21 L720.98,603.25 L721.83,603.31 L722.68,603.37 L723.53,603.43 L724.38,603.50 L725.22,603.57 L726.07,603.63 L726.92,603.70 L727.77,603.75 L728.62,603.81 L729.46,603.86 L730.31,603.91 L731.16,603.97 L732.01,604.02 L732.86,604.08 L733.70,604.13 L734.55,604.17 L735.40,604.20 L736.25,604.22 L737.10,604.23 L737.94,604.22 L738.79,604.21 L739.64,604.18 L740.49,604.15 L741.34,604.11 L742.18,604.06 L743.03,604.01 L743.88,603.95 L744.73,603.88 L745.58,603.81 L746.42,603.74 L747.27,603.66 L748.12,603.58 L748.97,603.50 L749.82,603.42 L750.66,603.34 L751.51,603.26 L752.36,603.17 L753.21,603.08 L754.06,603.00 L754.90,602.91 L755.75,602.82 L756.60,602.73 L757.45,602.64 L758.30,602.56 L759.14,602.47 L759.99,602.39 L760.84,602.31 L761.69,602.24 L762.54,602.16 L763.38,602.09 L764.23,602.02 L765.08,601.96 L765.93,601.90 L766.78,601.84 L767.62,601.78 L768.47,601.73 L769.32,601.67 L770.17,601.62 L771.02,601.57 L771.86,601.52 L772.71,601.47 L773.56,601.42 L774.41,601.37 L775.26,601.32 L776.10,601.26 L776.95,601.21 L777.80,601.14 L778.65,601.07 L779.50,600.99 L780.34,600.90 L781.19,600.81 L782.04,600.70 L782.89,600.58 L783.74,600.45 L784.58,600.31 L785.43,600.15 L786.28,599.98 L787.13,599.81 L787.98,599.62 L788.82,599.42 L789.67,599.22 L790.52,599.00 L791.37,598.78 L792.22,598.56 L793.06,598.32 L793.91,598.08 L794.76,597.82 L795.61,597.56 L796.46,597.29 L797.30,597.02 L798.15,596.73 L799.00,596.44 L799.85,596.13 L800.70,595.82 L801.54,595.49 L802.39,595.15 L803.24,594.79 L804.09,594.43 L804.94,594.04 L805.78,593.65 L806.63,593.26 L807.48,592.85 L808.33,592.44 L809.18,592.02 L810.02,591.59 L810.87,591.15 L811.72,590.68 L812.57,590.20 L813.42,589.70 L814.26,589.18 L815.11,588.65 L815.96,588.10 L816.81,587.54 L817.66,586.96 L818.50,586.36 L819.35,585.72 L820.20,585.05 L821.05,584.34 L821.90,583.60 L822.74,582.82 L823.59,582.01 L824.44,581.17 L825.29,580.31 L826.14,579.41 L826.98,578.47 L827.83,577.48 L828.68,576.44 L829.53,575.35 L830.38,574.23 L831.22,573.08 L832.07,571.93 L832.92,570.78 L833.77,569.62 L834.62,568.44 L835.46,567.22 L836.31,565.93 L837.16,564.55 L838.01,563.09 L838.86,561.57 L839.70,560.02 L840.55,558.48 L841.40,556.99 L842.25,555.56 L843.10,554.19 L843.94,552.85 L844.79,551.52 L845.64,550.17 L846.49,548.79 L847.34,547.36 L848.18,545.90 L849.03,544.42 L849.88,542.93 L850.73,541.45 L851.58,539.95 L852.42,538.44 L853.27,536.88 L854.12,535.24 L854.97,533.50 L855.82,531.63 L856.66,529.59 L857.51,527.38 L858.36,525.00 L859.21,522.44 L860.06,519.73 L860.90,516.89 L861.75,513.95 L862.60,510.92 L863.45,507.83 L864.30,504.69 L865.14,501.51 L865.99,498.30 L866.84,495.07 L867.69,491.84 L868.54,488.63 L869.38,485.45 L870.23,482.31 L871.08,479.24 L871.93,476.24 L872.78,473.32 L873.62,470.48 L874.47,467.73 L875.32,465.08 L876.17,462.57 L877.02,460.23 L877.86,458.08 L878.71,456.17 L879.56,454.51 L880.41,453.13 L881.26,452.03 L882.10,451.19 L882.95,450.60 L883.80,450.24 L884.65,450.11 L885.50,450.22 L886.34,450.58 L887.19,451.22 L888.04,452.19 L888.89,453.49 L889.74,455.14 L890.58,457.10 L891.43,459.35 L892.28,461.86 L893.13,464.59 L893.98,467.50 L894.82,470.55 L895.67,473.70 L896.52,476.92 L897.37,480.18 L898.22,483.48 L899.06,486.79 L899.91,490.12 L900.76,493.47 L901.61,496.81 L902.46,500.15 L903.30,503.46 L904.15,506.74 L905.00,509.98 L905.85,513.19 L906.70,516.34 L907.54,519.45 L908.39,522.48 L909.24,525.44 L910.09,528.32 L910.94,531.10 L911.78,533.78 L912.63,536.36 L913.48,538.83 L914.33,541.19 L915.18,543.44 L916.02,545.58 L916.87,547.61 L917.72,549.54 L918.57,551.38 L919.42,553.13 L920.26,554.80 L921.11,556.41 L921.96,557.95 L922.81,559.44 L923.66,560.87 L924.50,562.24 L925.35,563.57 L926.20,564.83 L927.05,566.04 L927.90,567.19 L928.74,568.27 L929.59,569.30 L930.44,570.26 L931.29,571.17 L932.14,572.02 L932.98,572.82 L933.83,573.59 L934.68,574.32 L935.53,575.03 L936.38,575.73 L937.22,576.41 L938.07,577.08 L938.92,577.74 L939.77,578.38 L940.62,579.02 L941.46,579.63 L942.31,580.23 L943.16,580.81 L944.01,581.37 L944.86,581.90 L945.70,582.41 L946.55,582.91 L947.40,583.37 L948.25,583.82 L949.10,584.25 L949.94,584.65 L950.79,585.03 L951.64,585.39 L952.49,585.74 L953.34,586.06 L954.18,586.38 L955.03,586.68 L955.88,586.97 L956.73,587.26 L957.58,587.53 L958.42,587.79 L959.27,588.03 L960.12,588.27 L960.97,588.49 L961.82,588.71 L962.66,588.93 L963.51,589.16 L964.36,589.39 L965.21,589.63 L966.06,589.86 L966.90,590.06 L967.75,590.22 L968.60,590.30" stroke="#0000ff" stroke-width="2.40" fill="none" stroke-linecap="butt" stroke-linejoin="round"/>
<path d="M548.84,612.45 L550.88,612.39 L559.36,612.18 L567.84,611.97 L576.32,611.79 L584.80,611.63 L593.28,611.45 L601.76,611.24 L610.24,610.96 L618.72,609.85 L627.20,608.37 L635.68,606.28 L644.16,603.95 L652.64,601.41 L661.12,599.78 L669.60,599.75 L678.08,600.96 L686.56,602.87 L695.04,605.07 L703.52,606.02 L712.00,606.25 L720.48,606.00 L728.96,605.44 L737.44,604.57 L745.92,603.13 L754.40,600.71 L762.88,597.53 L771.36,594.09 L779.84,589.68 L788.32,583.88 L796.80,577.51 L805.28,570.83 L813.76,562.64 L822.24,554.35 L830.72,546.08 L839.20,533.85 L847.68,522.26 L856.16,520.63 L864.64,526.02 L873.12,528.02 L881.60,518.02 L890.08,508.82 L898.56,519.40 L907.04,542.68 L915.52,563.11 L924.00,575.54 L932.48,582.96 L940.96,588.50 L949.44,592.52 L957.92,595.67 L966.40,598.27 L968.60,598.92" stroke="#ff0000" stroke-width="2.40" fill="none" stroke-dasharray="9.7,4.3" stroke-linecap="butt" stroke-linejoin="round"/>
</g>
<g font-family="'Liberation Serif', serif" fill="#0a0a0a" stroke="#fff" stroke-width="0.16">
<text x="34.15" y="218.20" font-size="17.20" text-anchor="end">0</text>
<text x="34.15" y="190.09" font-size="17.20" text-anchor="end">1</text>
<text x="34.15" y="161.99" font-size="17.20" text-anchor="end">2</text>
<text x="34.15" y="133.88" font-size="17.20" text-anchor="end">3</text>
<text x="34.15" y="105.77" font-size="17.20" text-anchor="end">4</text>
<text x="34.15" y="77.67" font-size="17.20" text-anchor="end">5</text>
<text x="34.15" y="49.56" font-size="17.20" text-anchor="end">6</text>
<text x="34.15" y="21.45" font-size="17.20" text-anchor="end">7</text>
<g transform="translate(14.85,105.80) rotate(-90)"><text x="-75.60" y="0.00" font-size="16.60" textLength="23.30" lengthAdjust="spacingAndGlyphs">GT</text><text x="-45.40" y="0.00" font-size="16.60" textLength="58.60" lengthAdjust="spacingAndGlyphs">strength</text><text x="19.30" y="0.00" font-size="16.60" textLength="39.60" lengthAdjust="spacingAndGlyphs">[MeV</text><text x="58.40" y="-5.10" font-size="11.60" textLength="11.40" lengthAdjust="spacingAndGlyphs">−1</text><text x="69.40" y="0.00" font-size="16.60">]</text></g>
<text x="43.95" y="25.10" font-size="10.60" textLength="16.70" lengthAdjust="spacingAndGlyphs">128</text>
<text x="61.70" y="30.80" font-size="17.20" textLength="19.60" lengthAdjust="spacingAndGlyphs">Cd</text>
<text x="89.30" y="30.80" font-size="17.20" textLength="12.10" lengthAdjust="spacingAndGlyphs" font-style="italic">K</text>
<text x="107.40" y="30.80" font-size="17.20" textLength="11.40" lengthAdjust="spacingAndGlyphs">=</text>
<text x="124.10" y="30.80" font-size="17.20" textLength="8.90" lengthAdjust="spacingAndGlyphs">0</text>
<text x="133.15" y="30.80" font-size="17.20">,</text>
<text x="139.70" y="31.10" font-size="21.00" textLength="10.60" lengthAdjust="spacingAndGlyphs">±</text>
<text x="151.35" y="30.80" font-size="17.20">1</text>
<text x="34.15" y="431.35" font-size="17.20" text-anchor="end">0</text>
<text x="34.15" y="403.24" font-size="17.20" text-anchor="end">1</text>
<text x="34.15" y="375.14" font-size="17.20" text-anchor="end">2</text>
<text x="34.15" y="347.03" font-size="17.20" text-anchor="end">3</text>
<text x="34.15" y="318.92" font-size="17.20" text-anchor="end">4</text>
<text x="34.15" y="290.82" font-size="17.20" text-anchor="end">5</text>
<text x="34.15" y="262.71" font-size="17.20" text-anchor="end">6</text>
<text x="34.15" y="234.60" font-size="17.20" text-anchor="end">7</text>
<g transform="translate(14.85,318.95) rotate(-90)"><text x="-75.60" y="0.00" font-size="16.60" textLength="23.30" lengthAdjust="spacingAndGlyphs">GT</text><text x="-45.40" y="0.00" font-size="16.60" textLength="58.60" lengthAdjust="spacingAndGlyphs">strength</text><text x="19.30" y="0.00" font-size="16.60" textLength="39.60" lengthAdjust="spacingAndGlyphs">[MeV</text><text x="58.40" y="-5.10" font-size="11.60" textLength="11.40" lengthAdjust="spacingAndGlyphs">−1</text><text x="69.40" y="0.00" font-size="16.60">]</text></g>
<text x="43.95" y="238.15" font-size="10.60" textLength="16.70" lengthAdjust="spacingAndGlyphs">146</text>
<text x="62.40" y="243.85" font-size="17.20" textLength="18.20" lengthAdjust="spacingAndGlyphs">Ba</text>
<text x="87.90" y="243.85" font-size="17.20" textLength="12.10" lengthAdjust="spacingAndGlyphs" font-style="italic">K</text>
<text x="106.10" y="243.85" font-size="17.20" textLength="11.40" lengthAdjust="spacingAndGlyphs">=</text>
<text x="123.00" y="243.85" font-size="17.20" textLength="8.40" lengthAdjust="spacingAndGlyphs">0</text>
<text x="34.15" y="620.80" font-size="17.20" text-anchor="end">0</text>
<text x="34.15" y="595.76" font-size="17.20" text-anchor="end">1</text>
<text x="34.15" y="570.72" font-size="17.20" text-anchor="end">2</text>
<text x="34.15" y="545.68" font-size="17.20" text-anchor="end">3</text>
<text x="34.15" y="520.64" font-size="17.20" text-anchor="end">4</text>
<text x="34.15" y="495.60" font-size="17.20" text-anchor="end">5</text>
<text x="34.15" y="470.56" font-size="17.20" text-anchor="end">6</text>
<text x="34.15" y="445.52" font-size="17.20" text-anchor="end">7</text>
<text x="40.55" y="634.00" font-size="17.20" text-anchor="middle">0</text>
<text x="210.24" y="634.00" font-size="17.20" text-anchor="middle">10</text>
<text x="379.93" y="634.00" font-size="17.20" text-anchor="middle">20</text>
<text x="186.87" y="652.60" font-size="16.60" textLength="31.30" lengthAdjust="spacingAndGlyphs">RPA</text>
<text x="224.56" y="652.60" font-size="16.60" textLength="45.30" lengthAdjust="spacingAndGlyphs">energy</text>
<text x="276.47" y="652.60" font-size="16.60" textLength="41.60" lengthAdjust="spacingAndGlyphs">[MeV]</text>
<g transform="translate(14.85,520.30) rotate(-90)"><text x="-75.60" y="0.00" font-size="16.60" textLength="23.30" lengthAdjust="spacingAndGlyphs">GT</text><text x="-45.40" y="0.00" font-size="16.60" textLength="58.60" lengthAdjust="spacingAndGlyphs">strength</text><text x="19.30" y="0.00" font-size="16.60" textLength="39.60" lengthAdjust="spacingAndGlyphs">[MeV</text><text x="58.40" y="-5.10" font-size="11.60" textLength="11.40" lengthAdjust="spacingAndGlyphs">−1</text><text x="69.40" y="0.00" font-size="16.60">]</text></g>
<text x="43.95" y="450.00" font-size="10.60" textLength="16.70" lengthAdjust="spacingAndGlyphs">146</text>
<text x="62.40" y="455.70" font-size="17.20" textLength="18.20" lengthAdjust="spacingAndGlyphs">Ba</text>
<text x="87.90" y="455.70" font-size="17.20" textLength="12.10" lengthAdjust="spacingAndGlyphs" font-style="italic">K</text>
<text x="106.10" y="455.70" font-size="17.20" textLength="11.40" lengthAdjust="spacingAndGlyphs">=</text>
<text x="123.50" y="456.00" font-size="21.00" textLength="10.70" lengthAdjust="spacingAndGlyphs">±</text>
<text x="135.25" y="455.70" font-size="17.20">1</text>
<text x="538.40" y="217.80" font-size="17.20" text-anchor="end">0</text>
<text x="538.40" y="167.21" font-size="17.20" text-anchor="end">3</text>
<text x="538.40" y="116.62" font-size="17.20" text-anchor="end">6</text>
<text x="538.40" y="66.02" font-size="17.20" text-anchor="end">9</text>
<text x="538.40" y="15.43" font-size="17.20" text-anchor="end">12</text>
<g transform="translate(511.60,105.80) rotate(-90)"><text x="-75.60" y="0.00" font-size="16.60" textLength="23.30" lengthAdjust="spacingAndGlyphs">GT</text><text x="-45.40" y="0.00" font-size="16.60" textLength="58.60" lengthAdjust="spacingAndGlyphs">strength</text><text x="19.30" y="0.00" font-size="16.60" textLength="39.60" lengthAdjust="spacingAndGlyphs">[MeV</text><text x="58.40" y="-5.10" font-size="11.60" textLength="11.40" lengthAdjust="spacingAndGlyphs">−1</text><text x="69.40" y="0.00" font-size="16.60">]</text></g>
<text x="547.50" y="27.80" font-size="10.60" textLength="17.10" lengthAdjust="spacingAndGlyphs">208</text>
<text x="566.40" y="33.50" font-size="17.20" textLength="18.20" lengthAdjust="spacingAndGlyphs">Pb</text>
<text x="592.90" y="33.50" font-size="17.20" textLength="12.10" lengthAdjust="spacingAndGlyphs" font-style="italic">K</text>
<text x="610.80" y="33.50" font-size="17.20" textLength="11.40" lengthAdjust="spacingAndGlyphs">=</text>
<text x="627.40" y="33.50" font-size="17.20" textLength="8.90" lengthAdjust="spacingAndGlyphs">0</text>
<text x="636.50" y="33.50" font-size="17.20">,</text>
<text x="643.00" y="33.80" font-size="21.00" textLength="10.60" lengthAdjust="spacingAndGlyphs">±</text>
<text x="654.60" y="33.50" font-size="17.20">1</text>
<text x="538.40" y="431.35" font-size="17.20" text-anchor="end">0</text>
<text x="538.40" y="403.24" font-size="17.20" text-anchor="end">1</text>
<text x="538.40" y="375.14" font-size="17.20" text-anchor="end">2</text>
<text x="538.40" y="347.03" font-size="17.20" text-anchor="end">3</text>
<text x="538.40" y="318.92" font-size="17.20" text-anchor="end">4</text>
<text x="538.40" y="290.82" font-size="17.20" text-anchor="end">5</text>
<text x="538.40" y="262.71" font-size="17.20" text-anchor="end">6</text>
<text x="538.40" y="234.60" font-size="17.20" text-anchor="end">7</text>
<g transform="translate(519.10,318.95) rotate(-90)"><text x="-75.60" y="0.00" font-size="16.60" textLength="23.30" lengthAdjust="spacingAndGlyphs">GT</text><text x="-45.40" y="0.00" font-size="16.60" textLength="58.60" lengthAdjust="spacingAndGlyphs">strength</text><text x="19.30" y="0.00" font-size="16.60" textLength="39.60" lengthAdjust="spacingAndGlyphs">[MeV</text><text x="58.40" y="-5.10" font-size="11.60" textLength="11.40" lengthAdjust="spacingAndGlyphs">−1</text><text x="69.40" y="0.00" font-size="16.60">]</text></g>
<text x="548.20" y="238.15" font-size="10.60" textLength="16.70" lengthAdjust="spacingAndGlyphs">166</text>
<text x="566.10" y="243.85" font-size="17.20" textLength="21.00" lengthAdjust="spacingAndGlyphs">Gd</text>
<text x="594.20" y="243.85" font-size="17.20" textLength="12.10" lengthAdjust="spacingAndGlyphs" font-style="italic">K</text>
<text x="612.10" y="243.85" font-size="17.20" textLength="11.40" lengthAdjust="spacingAndGlyphs">=</text>
<text x="628.80" y="243.85" font-size="17.20" textLength="8.40" lengthAdjust="spacingAndGlyphs">0</text>
<text x="538.40" y="620.80" font-size="17.20" text-anchor="end">0</text>
<text x="538.40" y="595.76" font-size="17.20" text-anchor="end">1</text>
<text x="538.40" y="570.72" font-size="17.20" text-anchor="end">2</text>
<text x="538.40" y="545.68" font-size="17.20" text-anchor="end">3</text>
<text x="538.40" y="520.64" font-size="17.20" text-anchor="end">4</text>
<text x="538.40" y="495.60" font-size="17.20" text-anchor="end">5</text>
<text x="538.40" y="470.56" font-size="17.20" text-anchor="end">6</text>
<text x="538.40" y="445.52" font-size="17.20" text-anchor="end">7</text>
<text x="544.80" y="634.00" font-size="17.20" text-anchor="middle">0</text>
<text x="714.40" y="634.00" font-size="17.20" text-anchor="middle">10</text>
<text x="884.00" y="634.00" font-size="17.20" text-anchor="middle">20</text>
<text x="691.00" y="652.60" font-size="16.60" textLength="31.30" lengthAdjust="spacingAndGlyphs">RPA</text>
<text x="728.70" y="652.60" font-size="16.60" textLength="45.30" lengthAdjust="spacingAndGlyphs">energy</text>
<text x="780.60" y="652.60" font-size="16.60" textLength="41.60" lengthAdjust="spacingAndGlyphs">[MeV]</text>
<g transform="translate(519.10,520.30) rotate(-90)"><text x="-75.60" y="0.00" font-size="16.60" textLength="23.30" lengthAdjust="spacingAndGlyphs">GT</text><text x="-45.40" y="0.00" font-size="16.60" textLength="58.60" lengthAdjust="spacingAndGlyphs">strength</text><text x="19.30" y="0.00" font-size="16.60" textLength="39.60" lengthAdjust="spacingAndGlyphs">[MeV</text><text x="58.40" y="-5.10" font-size="11.60" textLength="11.40" lengthAdjust="spacingAndGlyphs">−1</text><text x="69.40" y="0.00" font-size="16.60">]</text></g>
<text x="548.20" y="450.00" font-size="10.60" textLength="16.70" lengthAdjust="spacingAndGlyphs">166</text>
<text x="566.10" y="455.70" font-size="17.20" textLength="21.00" lengthAdjust="spacingAndGlyphs">Gd</text>
<text x="594.20" y="455.70" font-size="17.20" textLength="12.10" lengthAdjust="spacingAndGlyphs" font-style="italic">K</text>
<text x="612.10" y="455.70" font-size="17.20" textLength="11.40" lengthAdjust="spacingAndGlyphs">=</text>
<text x="629.60" y="456.00" font-size="21.00" textLength="10.60" lengthAdjust="spacingAndGlyphs">±</text>
<text x="641.20" y="455.70" font-size="17.20">1</text>
</g>
</svg>
</body></html>
